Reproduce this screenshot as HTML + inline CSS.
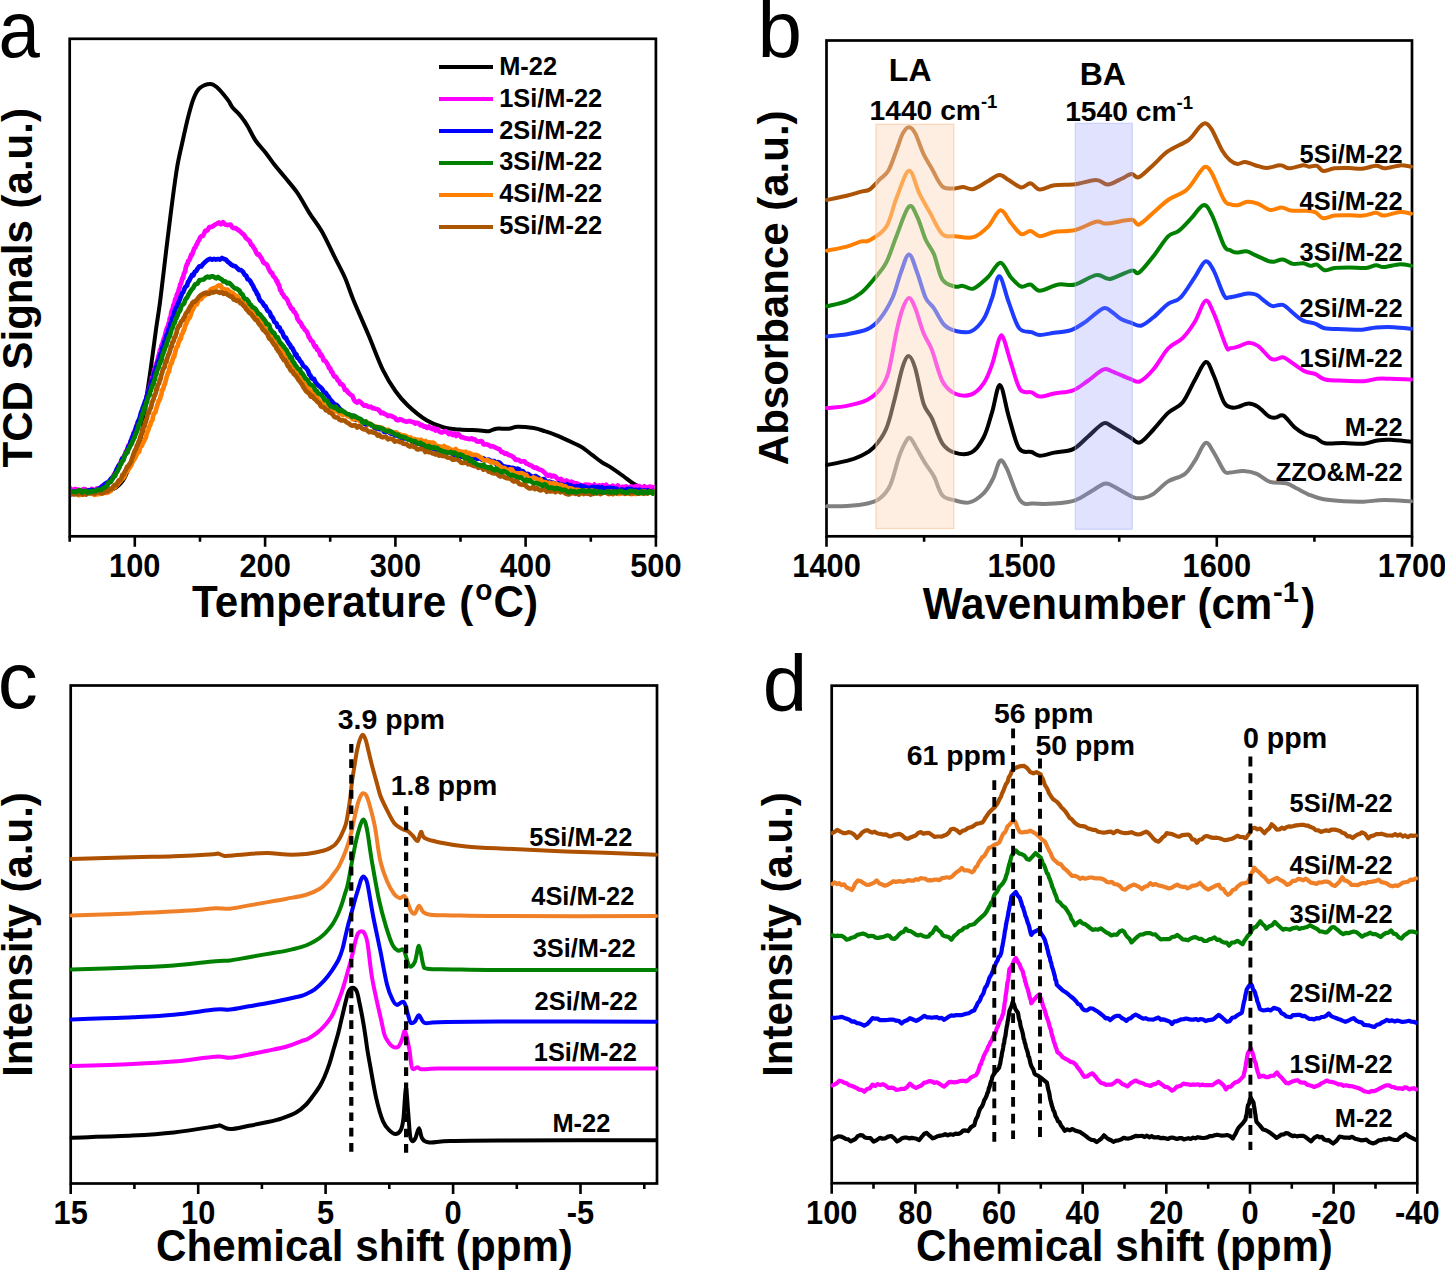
<!DOCTYPE html>
<html><head><meta charset="utf-8"><style>
html,body{margin:0;padding:0;background:#fff;overflow:hidden;width:1445px;height:1270px;}
svg{display:block;font-family:"Liberation Sans",sans-serif;}
</style></head><body>
<svg width="1445" height="1270" viewBox="0 0 1445 1270" font-family="Liberation Sans, sans-serif">
<defs><clipPath id="clipA"><rect x="70.9" y="40" width="583.8" height="494.8"/></clipPath></defs>
<rect x="69.7" y="38.8" width="586.2" height="497.5" fill="none" stroke="#000" stroke-width="2.7"/>
<path d="M134.8,536.3v10.5M265.1,536.3v10.5M395.4,536.3v10.5M525.6,536.3v10.5M655.9,536.3v10.5M69.7,536.3v5.5M200.0,536.3v5.5M330.2,536.3v5.5M460.5,536.3v5.5M590.8,536.3v5.5" stroke="#000" stroke-width="2.6" fill="none"/>
<text transform="translate(134.8,577.2) scale(1,1.055)" font-size="30.8" font-weight="bold" text-anchor="middle">100</text>
<text transform="translate(265.1,577.2) scale(1,1.055)" font-size="30.8" font-weight="bold" text-anchor="middle">200</text>
<text transform="translate(395.4,577.2) scale(1,1.055)" font-size="30.8" font-weight="bold" text-anchor="middle">300</text>
<text transform="translate(525.6,577.2) scale(1,1.055)" font-size="30.8" font-weight="bold" text-anchor="middle">400</text>
<text transform="translate(655.9,577.2) scale(1,1.055)" font-size="30.8" font-weight="bold" text-anchor="middle">500</text>
<text transform="translate(192,616.8) scale(1.004,1.045)" font-size="42" font-weight="bold"><tspan letter-spacing="0.2">Temperature</tspan><tspan dx="1.2"> (</tspan><tspan font-size="28" dx="2" dy="-16.5">o</tspan><tspan dx="1" dy="16.5">C)</tspan></text>
<text transform="translate(31.5,287.8) rotate(-90)" font-size="42" font-weight="bold" text-anchor="middle">TCD Signals (a.u.)</text>
<text transform="translate(-1.5,57) scale(0.93,1)" font-size="80">a</text>
<rect x="826.5" y="40.5" width="585.5" height="495.8" fill="none" stroke="#000" stroke-width="2.7"/>
<path d="M826.5,536.3v10.5M1021.7,536.3v10.5M1216.8,536.3v10.5M1412.0,536.3v10.5M924.1,536.3v5.5M1119.2,536.3v5.5M1314.4,536.3v5.5" stroke="#000" stroke-width="2.6" fill="none"/>
<text transform="translate(826.5,577.2) scale(1,1.055)" font-size="30.8" font-weight="bold" text-anchor="middle">1400</text>
<text transform="translate(1021.7,577.2) scale(1,1.055)" font-size="30.8" font-weight="bold" text-anchor="middle">1500</text>
<text transform="translate(1216.8,577.2) scale(1,1.055)" font-size="30.8" font-weight="bold" text-anchor="middle">1600</text>
<text transform="translate(1412.0,577.2) scale(1,1.055)" font-size="30.8" font-weight="bold" text-anchor="middle">1700</text>
<text transform="translate(1119,619) scale(1.003,1.045)" font-size="42" font-weight="bold" text-anchor="middle">Wavenumber (cm<tspan font-size="29" dx="0.8" dy="-16.5">-1</tspan><tspan dx="2.2" dy="16.5">)</tspan></text>
<text transform="translate(788,287.8) rotate(-90)" font-size="42" font-weight="bold" text-anchor="middle">Absorbance (a.u.)</text>
<text x="757.5" y="57.0" font-size="80" font-weight="normal" text-anchor="start" >b</text>
<rect x="70.7" y="685.5" width="586.3" height="498.0" fill="none" stroke="#000" stroke-width="2.7"/>
<path d="M70.7,1183.5v10.5M198.2,1183.5v10.5M325.6,1183.5v10.5M453.1,1183.5v10.5M580.5,1183.5v10.5M134.4,1183.5v5.5M261.9,1183.5v5.5M389.3,1183.5v5.5M516.8,1183.5v5.5M644.3,1183.5v5.5" stroke="#000" stroke-width="2.6" fill="none"/>
<text transform="translate(70.7,1224.2) scale(1,1.055)" font-size="30.8" font-weight="bold" text-anchor="middle">15</text>
<text transform="translate(198.2,1224.2) scale(1,1.055)" font-size="30.8" font-weight="bold" text-anchor="middle">10</text>
<text transform="translate(325.6,1224.2) scale(1,1.055)" font-size="30.8" font-weight="bold" text-anchor="middle">5</text>
<text transform="translate(453.1,1224.2) scale(1,1.055)" font-size="30.8" font-weight="bold" text-anchor="middle">0</text>
<text transform="translate(580.5,1224.2) scale(1,1.055)" font-size="30.8" font-weight="bold" text-anchor="middle">-5</text>
<text transform="translate(364.5,1261) scale(1.004,1.045)" font-size="42" font-weight="bold" text-anchor="middle">Chemical shift (ppm)</text>
<text transform="translate(31.5,934.5) rotate(-90)" font-size="42" font-weight="bold" text-anchor="middle">Intensity (a.u.)</text>
<text x="-2.2" y="708.2" font-size="80" font-weight="normal" text-anchor="start" >c</text>
<rect x="831.7" y="685.7" width="585.6" height="497.5" fill="none" stroke="#000" stroke-width="2.7"/>
<path d="M831.7,1183.2v10.5M915.4,1183.2v10.5M999.0,1183.2v10.5M1082.7,1183.2v10.5M1166.3,1183.2v10.5M1250.0,1183.2v10.5M1333.6,1183.2v10.5M1417.3,1183.2v10.5M873.5,1183.2v5.5M957.2,1183.2v5.5M1040.8,1183.2v5.5M1124.5,1183.2v5.5M1208.2,1183.2v5.5M1291.8,1183.2v5.5M1375.5,1183.2v5.5" stroke="#000" stroke-width="2.6" fill="none"/>
<text transform="translate(831.7,1224.2) scale(1,1.055)" font-size="30.8" font-weight="bold" text-anchor="middle">100</text>
<text transform="translate(915.4,1224.2) scale(1,1.055)" font-size="30.8" font-weight="bold" text-anchor="middle">80</text>
<text transform="translate(999.0,1224.2) scale(1,1.055)" font-size="30.8" font-weight="bold" text-anchor="middle">60</text>
<text transform="translate(1082.7,1224.2) scale(1,1.055)" font-size="30.8" font-weight="bold" text-anchor="middle">40</text>
<text transform="translate(1166.3,1224.2) scale(1,1.055)" font-size="30.8" font-weight="bold" text-anchor="middle">20</text>
<text transform="translate(1250.0,1224.2) scale(1,1.055)" font-size="30.8" font-weight="bold" text-anchor="middle">0</text>
<text transform="translate(1333.6,1224.2) scale(1,1.055)" font-size="30.8" font-weight="bold" text-anchor="middle">-20</text>
<text transform="translate(1417.3,1224.2) scale(1,1.055)" font-size="30.8" font-weight="bold" text-anchor="middle">-40</text>
<text transform="translate(1124.5,1261) scale(1.004,1.045)" font-size="42" font-weight="bold" text-anchor="middle">Chemical shift (ppm)</text>
<text transform="translate(792,934.5) rotate(-90)" font-size="42" font-weight="bold" text-anchor="middle">Intensity (a.u.)</text>
<text x="762.8" y="710.8" font-size="80" font-weight="normal" text-anchor="start" >d</text>
<g clip-path="url(#clipA)">
<path d="M80.0,490.0C83.3,490.0 94.7,490.2 100.0,490.0C105.3,489.8 109.3,489.4 112.0,489.0C114.7,488.6 114.6,488.4 116.0,487.5C117.4,486.6 119.2,485.1 120.6,483.5C122.0,481.9 123.2,480.4 124.5,478.0C125.8,475.6 127.1,472.3 128.5,469.0C129.9,465.7 131.5,461.5 133.0,458.0C134.5,454.5 136.0,452.2 137.5,448.0C139.0,443.8 140.5,440.3 141.8,433.0C143.1,425.7 144.1,413.9 145.5,404.0C146.9,394.1 148.2,386.4 150.0,373.8C151.8,361.2 154.5,340.4 156.2,328.1C157.9,315.8 158.6,313.5 160.3,300.0C162.0,286.5 164.7,262.7 166.6,246.9C168.5,231.1 170.1,218.5 171.8,205.3C173.5,192.2 175.3,178.4 177.0,168.0C178.7,157.6 180.3,151.7 182.2,143.0C184.1,134.3 186.5,123.4 188.4,116.0C190.3,108.6 191.7,103.1 193.6,98.4C195.5,93.7 197.0,90.4 199.8,88.0C202.6,85.6 207.3,84.0 210.2,83.9C213.0,83.8 214.5,85.3 216.9,87.3C219.3,89.3 222.8,93.6 224.8,96.0C226.8,98.4 227.7,99.5 229.0,101.5C230.3,103.5 231.0,105.7 232.7,107.8C234.4,109.9 237.1,112.0 239.0,114.1C240.9,116.2 242.4,118.3 244.0,120.5C245.6,122.7 246.4,124.1 248.4,127.5C250.4,130.9 252.9,136.7 255.9,141.0C258.9,145.3 263.1,149.4 266.2,153.4C269.3,157.4 271.4,160.8 274.5,164.8C277.6,168.8 281.1,172.6 284.9,177.3C288.7,182.0 293.2,186.9 297.4,192.9C301.5,198.9 305.6,207.0 309.8,213.6C314.0,220.2 318.2,225.0 322.3,232.3C326.4,239.6 330.9,249.6 334.7,257.2C338.5,264.8 342.0,270.9 345.1,278.0C348.2,285.1 349.5,290.5 353.4,300.0C357.3,309.5 363.6,323.3 368.5,335.0C373.4,346.7 378.5,360.9 383.0,370.2C387.5,379.5 391.2,385.1 395.4,391.0C399.5,396.9 402.7,400.6 407.9,405.5C413.1,410.4 420.7,416.7 426.6,420.3C432.5,423.9 437.7,425.8 443.2,427.3C448.7,428.9 453.7,429.1 459.8,429.6C465.9,430.1 475.2,430.1 480.0,430.4C484.8,430.7 486.0,431.5 488.7,431.2C491.4,430.9 492.9,429.1 496.2,428.7C499.5,428.3 505.1,429.0 508.6,428.7C512.1,428.4 513.2,426.9 517.4,426.8C521.5,426.7 528.9,427.4 533.5,428.1C538.1,428.8 540.8,429.9 544.8,431.2C548.8,432.4 552.4,433.6 557.2,435.6C562.0,437.6 569.2,441.0 573.4,443.0C577.5,445.0 579.0,445.4 582.1,447.4C585.2,449.4 588.8,452.4 592.1,454.9C595.4,457.4 598.9,460.2 602.0,462.3C605.1,464.4 607.3,465.0 610.8,467.3C614.3,469.6 619.5,473.3 623.2,476.0C626.9,478.7 630.3,481.6 633.2,483.5C636.1,485.4 638.3,486.2 640.6,487.2C642.9,488.2 644.4,488.9 647.0,489.5C649.6,490.1 654.5,490.3 656.0,490.5" fill="none" stroke="#000" stroke-width="4" stroke-linejoin="round" stroke-linecap="round" />
<path d="M70.0,488.0 71.7,490.1 73.3,490.0 75.0,488.9 76.7,489.7 78.3,489.7 80.0,490.4 81.7,490.8 83.3,489.1 85.0,489.0 86.7,491.2 88.3,490.2 90.0,491.2 91.7,488.9 93.3,489.7 95.0,490.1 96.7,488.5 98.3,490.0 100.0,489.5 102.0,486.1 104.0,484.9 106.0,485.1 108.0,484.1 110.0,480.7 111.3,478.4 112.7,477.1 114.0,474.3 115.0,472.9 116.0,471.5 117.0,469.8 118.0,467.2 119.0,465.3 119.9,463.6 120.7,462.5 121.6,460.3 122.4,457.9 123.3,458.3 124.1,455.9 125.0,454.4 125.8,451.4 126.7,451.6 127.5,449.4 128.3,445.7 129.2,444.4 130.0,443.6 130.6,441.9 131.2,440.9 131.8,438.0 132.4,437.5 133.0,435.4 133.6,432.9 134.2,432.0 134.8,431.2 135.4,429.5 136.0,427.0 136.7,425.5 137.5,422.4 138.2,421.2 138.9,421.0 139.7,418.3 140.4,415.9 141.1,415.2 141.8,413.9 142.6,412.2 143.3,409.7 143.8,408.2 144.2,406.7 144.7,405.7 145.1,403.3 145.6,401.3 146.1,399.9 146.5,397.0 147.0,395.4 147.4,395.4 147.9,394.5 148.4,391.8 148.8,389.6 149.3,387.3 149.7,386.5 150.2,386.1 150.7,383.9 151.1,381.7 151.6,380.9 152.0,377.7 152.5,376.8 153.0,376.4 153.4,373.8 153.9,371.9 154.3,369.8 154.8,368.9 155.3,368.4 155.7,364.3 156.2,364.7 156.7,363.2 157.1,361.8 157.6,359.8 158.0,358.4 158.5,356.0 159.0,354.5 159.5,352.6 160.0,350.0 160.5,350.5 161.0,348.1 161.5,345.5 162.0,344.6 162.6,343.0 163.1,341.0 163.6,339.3 164.1,338.2 164.6,336.8 165.1,335.2 165.6,333.1 166.1,330.4 166.6,329.3 167.1,327.5 167.5,327.0 168.0,326.1 168.4,324.3 168.9,322.7 169.4,321.1 169.8,318.1 170.3,318.0 170.8,315.9 171.2,312.8 171.7,311.0 172.2,309.4 172.6,309.7 173.1,306.8 173.5,304.8 174.0,304.5 174.6,302.1 175.1,299.7 175.7,298.3 176.3,297.6 176.8,294.9 177.4,293.5 178.0,293.0 178.5,290.7 179.1,288.6 179.7,287.3 180.2,284.5 180.8,283.7 181.3,282.1 181.9,279.8 182.4,277.9 183.0,278.3 183.5,275.6 184.1,273.1 184.7,272.4 185.2,271.3 185.8,267.5 186.4,265.7 186.9,264.3 187.5,264.1 188.2,261.0 189.0,260.8 189.8,259.1 190.5,257.1 191.2,254.6 192.0,255.0 192.8,252.9 193.5,250.5 194.4,248.1 195.3,247.5 196.2,245.1 197.1,243.8 198.0,241.5 198.9,240.5 200.2,237.3 201.4,236.2 202.7,236.1 203.9,234.1 205.2,230.9 207.3,230.4 209.4,227.1 211.5,226.8 213.4,225.8 215.3,224.5 217.1,223.6 219.0,222.4 220.9,224.2 223.0,222.2 225.1,224.5 227.2,225.1 228.8,224.8 230.5,224.5 232.1,227.1 233.8,228.1 235.4,228.1 237.6,229.5 239.8,231.1 241.9,233.1 244.0,234.8 246.1,238.2 247.4,239.2 248.6,240.2 249.9,241.6 251.1,244.7 252.4,245.4 253.7,247.8 254.9,249.2 256.2,252.6 257.4,254.5 258.7,254.1 260.2,256.4 261.7,258.6 263.2,262.1 264.7,263.4 266.2,264.1 267.4,265.5 268.5,268.4 269.7,270.6 270.8,272.6 272.0,272.8 273.1,275.9 274.3,277.1 275.4,278.3 276.6,281.4 277.3,281.2 278.0,284.3 278.7,284.4 279.4,286.4 280.1,290.1 280.8,290.1 282.0,293.3 283.3,294.7 284.5,297.2 285.8,297.8 287.0,299.6 287.9,301.1 288.9,304.2 289.8,305.1 290.8,307.7 291.7,309.1 292.7,308.8 293.6,311.5 294.6,311.9 295.5,313.4 296.5,315.1 297.4,318.8 298.4,320.2 299.5,322.0 300.5,322.4 301.5,324.7 302.6,326.8 303.6,327.4 304.6,329.6 305.7,330.4 306.7,331.7 307.8,333.8 308.8,337.1 309.8,337.9 310.9,340.5 311.9,340.9 312.9,342.1 314.0,345.1 315.0,346.9 316.0,346.4 317.1,349.8 318.1,349.9 319.2,351.6 320.3,355.3 321.4,354.7 322.5,356.9 323.6,360.5 324.7,360.6 325.8,361.5 326.9,363.2 328.0,365.1 329.0,368.0 330.1,368.0 331.2,371.7 332.3,372.0 333.4,375.1 334.5,376.6 335.6,376.7 336.7,378.2 337.8,380.4 338.9,381.1 340.4,384.2 341.9,384.2 343.4,385.8 344.9,390.0 346.4,389.9 348.0,392.4 349.5,393.7 351.0,395.0 352.5,396.0 354.0,399.9 355.5,401.7 357.2,402.5 358.9,401.0 360.6,402.1 362.3,403.9 364.0,405.6 365.8,405.2 367.5,406.3 369.2,407.0 370.9,406.7 372.6,408.2 374.3,408.4 376.0,409.0 377.7,409.3 379.4,410.6 381.1,413.2 382.8,412.6 384.5,413.9 386.2,414.6 387.9,416.1 389.6,415.5 391.3,416.0 393.0,416.8 394.7,417.6 396.4,419.7 398.1,420.3 399.8,419.1 401.5,419.7 403.2,420.6 404.9,421.2 406.6,421.6 408.4,421.2 410.1,421.0 411.8,422.0 413.5,422.0 415.2,423.7 416.9,422.9 418.6,423.3 420.3,425.3 422.0,424.9 423.7,426.7 425.4,426.4 427.1,427.9 428.8,426.5 430.5,428.0 432.2,429.2 433.9,427.9 435.6,430.6 437.3,429.1 439.0,431.2 440.7,432.3 442.4,432.3 444.1,431.4 445.8,431.2 447.5,432.7 449.2,434.2 450.9,433.0 452.7,435.0 454.4,433.5 456.1,435.9 457.8,434.0 459.5,435.2 461.2,437.1 462.9,437.3 464.6,438.1 466.3,438.4 468.0,438.7 469.7,439.1 471.4,438.3 473.2,439.5 474.9,439.3 476.6,441.3 478.3,441.7 480.0,441.2 481.8,441.3 483.6,444.3 485.4,444.5 487.1,444.4 488.9,445.1 490.7,446.5 492.5,446.1 494.3,447.0 496.0,447.9 497.8,448.7 499.6,449.2 501.4,451.9 503.1,452.3 504.9,453.8 506.7,453.4 508.5,455.0 510.3,455.4 512.0,456.2 513.8,457.5 515.6,459.9 517.4,459.6 519.2,460.3 520.9,461.6 522.7,461.3 524.5,461.4 526.3,463.5 528.0,464.1 529.8,465.2 531.5,465.5 533.1,467.0 534.8,467.9 536.5,467.5 538.1,469.0 539.8,469.7 541.4,470.0 543.1,471.4 544.8,472.8 546.4,474.6 548.1,475.6 549.7,474.8 551.6,476.5 553.4,475.7 555.3,476.5 557.2,478.4 559.0,480.0 560.9,478.9 562.7,480.8 564.5,481.5 566.3,480.4 568.0,481.7 569.8,482.5 571.6,481.6 573.4,482.8 575.2,483.4 577.0,483.4 578.8,484.6 580.5,485.1 582.3,485.7 584.1,485.1 585.9,484.6 587.6,484.8 589.3,484.8 591.0,485.7 592.7,486.3 594.4,484.5 596.0,486.2 597.7,486.3 599.4,485.4 601.1,485.9 602.8,485.1 604.5,486.6 606.2,484.8 607.8,487.3 609.5,486.9 611.1,486.5 612.8,485.6 614.5,487.3 616.1,487.5 617.8,485.4 619.4,487.1 621.1,487.3 622.8,486.9 624.4,487.0 626.1,486.4 627.7,487.7 629.4,487.8 631.1,486.4 632.7,487.5 634.4,486.7 636.0,486.1 637.7,486.6 639.4,486.1 641.0,488.2 642.7,488.4 644.4,486.3 646.0,487.7 647.7,487.3 649.4,486.6 651.0,487.1 652.7,487.1 654.3,488.5 656.0,486.6" fill="none" stroke="#FF00FF" stroke-width="4.7" stroke-linejoin="round" stroke-linecap="round" />
<path d="M70.0,494.2 71.7,494.1 73.3,491.6 75.0,491.6 76.7,493.4 78.3,493.1 80.0,492.8 81.7,491.7 83.3,492.4 85.0,492.3 86.8,491.8 88.5,490.3 90.3,490.5 92.0,490.0 93.8,490.4 95.5,490.7 97.3,490.2 99.2,488.3 101.1,487.2 103.0,485.9 104.9,484.0 106.8,482.7 108.7,481.9 110.5,479.5 111.8,478.0 113.1,477.7 114.4,475.1 115.2,473.5 116.1,471.0 116.9,468.8 117.7,467.9 118.6,465.7 119.4,465.0 120.3,464.6 121.2,462.0 122.1,459.0 123.0,459.2 123.9,457.2 124.8,455.3 125.7,454.1 126.6,451.8 127.4,450.0 128.3,446.9 129.1,446.7 130.0,444.7 130.7,440.9 131.3,440.8 131.9,439.0 132.6,436.6 133.2,435.1 133.9,433.3 134.6,432.7 135.2,429.9 135.8,429.1 136.5,426.1 137.1,425.9 137.6,424.3 138.2,421.5 138.7,420.2 139.3,419.4 139.9,417.3 140.4,415.1 141.0,412.7 141.5,411.4 142.1,410.7 142.7,407.7 143.2,407.9 143.8,404.6 144.4,404.6 144.9,401.4 145.5,401.4 146.1,399.1 146.6,397.0 147.2,395.3 147.7,394.0 148.3,392.2 148.9,389.8 149.4,387.9 150.0,387.0 150.5,386.4 151.1,383.9 151.6,380.8 152.2,381.1 152.7,379.1 153.2,377.9 153.8,374.4 154.3,374.1 154.8,370.6 155.4,370.5 155.9,367.8 156.5,366.0 157.0,366.0 157.5,362.3 158.1,361.7 158.6,360.9 159.2,357.7 159.7,355.9 160.2,356.0 160.8,353.1 161.3,352.2 161.9,348.8 162.4,348.0 163.0,345.8 163.5,345.4 164.1,342.2 164.7,342.7 165.3,338.5 165.9,338.6 166.6,335.0 167.2,333.9 167.8,333.6 168.4,330.1 169.0,328.4 169.6,328.0 170.1,325.6 170.6,323.1 171.2,323.9 171.7,320.2 172.2,318.2 172.7,317.4 173.2,316.5 173.7,315.3 174.3,312.0 174.8,311.0 175.3,308.6 176.0,307.9 176.7,306.9 177.4,305.0 178.2,303.6 178.9,301.5 179.6,299.9 180.3,297.7 181.3,295.3 182.3,292.9 183.2,292.2 184.2,289.5 185.2,287.2 186.1,286.3 187.1,285.6 188.0,281.9 188.9,281.3 189.9,279.0 190.8,277.5 192.1,274.9 193.5,275.3 194.8,271.8 196.2,271.0 197.5,268.8 199.3,266.4 201.2,266.5 203.0,264.1 204.8,262.3 206.7,260.7 208.5,259.4 210.4,258.8 212.2,259.7 214.1,258.9 215.9,259.6 217.8,259.0 219.9,259.6 222.0,258.0 224.1,259.0 226.0,259.7 227.9,261.9 229.7,263.2 231.6,264.9 233.5,265.9 235.4,266.3 237.3,268.2 239.2,270.0 241.1,270.2 243.0,271.8 244.6,274.7 246.2,275.8 247.7,279.3 249.3,279.9 250.3,281.2 251.3,283.0 252.3,284.8 253.3,286.3 254.3,288.8 255.2,290.3 256.2,291.6 257.1,294.2 258.1,294.8 259.1,298.3 260.0,300.2 261.1,301.3 262.2,302.2 263.3,304.0 264.4,305.9 265.5,306.2 266.6,308.8 267.7,310.7 268.9,311.5 270.0,312.9 271.1,316.5 272.2,317.0 273.3,319.0 274.4,321.8 275.5,322.6 276.6,323.5 277.6,326.9 278.7,327.0 279.7,327.7 280.8,331.1 281.8,331.3 282.8,333.5 283.9,336.5 284.9,337.7 286.0,337.7 287.0,340.5 288.0,342.0 289.1,343.9 290.1,344.8 291.2,347.5 292.2,347.8 293.2,350.0 294.3,351.9 295.3,355.0 296.4,354.4 297.4,357.9 298.6,358.0 299.8,360.6 301.0,361.8 302.1,363.6 303.3,366.0 304.5,366.7 305.7,367.6 306.9,369.2 308.1,370.8 309.3,374.4 310.4,375.5 311.6,377.9 312.8,378.9 314.0,378.8 315.4,382.1 316.9,384.0 318.4,385.6 319.8,386.6 321.2,387.9 322.7,389.8 324.1,392.4 325.6,392.7 327.1,395.0 328.5,396.5 330.1,399.5 331.6,400.9 333.2,402.9 334.8,404.4 336.3,404.8 337.9,406.3 339.4,408.7 341.0,409.9 342.9,411.4 344.7,413.1 346.6,414.7 348.4,414.9 350.2,416.6 352.1,415.7 353.8,417.2 355.5,419.7 357.2,418.3 358.9,419.8 360.6,419.7 362.3,420.6 364.1,423.5 365.8,424.5 367.5,424.5 369.2,423.9 370.9,425.2 372.6,425.8 374.3,427.7 376.0,428.4 377.7,428.3 379.4,429.1 381.1,428.7 382.8,430.4 384.5,432.0 386.2,432.1 387.9,431.0 389.6,432.7 391.3,433.8 393.0,433.2 394.7,435.4 396.4,434.9 398.1,436.2 399.8,436.1 401.5,438.3 403.2,438.4 404.9,438.5 406.6,438.1 408.4,439.5 410.1,439.1 411.8,441.3 413.5,442.7 415.2,441.5 416.9,443.1 418.6,443.7 420.3,444.0 422.0,445.2 423.7,446.3 425.4,446.2 427.1,446.1 428.8,447.9 430.5,446.8 432.2,448.3 433.9,448.6 435.6,449.4 437.3,450.1 439.0,449.0 440.7,450.5 442.4,450.4 444.1,451.5 445.8,452.8 447.5,452.3 449.2,451.2 450.9,452.8 452.7,453.9 454.4,454.8 456.1,454.6 457.8,455.5 459.5,453.9 461.2,456.7 462.9,456.6 464.6,456.5 466.3,457.6 468.0,457.8 469.7,456.0 471.4,458.1 473.2,458.3 474.9,457.0 476.6,458.7 478.3,458.6 480.0,457.8 481.8,459.7 483.6,458.4 485.4,460.0 487.1,459.9 488.9,459.7 490.7,460.9 492.5,461.0 494.3,461.0 496.0,463.7 497.8,462.1 499.6,462.7 501.4,464.6 503.1,466.3 504.9,466.5 506.7,467.3 508.5,467.1 510.3,468.1 512.0,467.8 513.8,468.1 515.6,469.3 517.4,468.6 519.2,469.4 520.9,471.9 522.7,471.1 524.5,473.3 526.3,474.1 528.0,473.8 529.8,475.3 531.6,476.3 533.4,477.2 535.2,476.0 536.9,476.8 538.7,478.1 540.5,479.0 542.3,479.3 544.1,479.1 545.8,481.0 547.6,482.6 549.4,481.6 551.2,482.5 552.9,482.7 554.7,483.4 556.5,484.7 558.3,483.5 560.1,484.7 561.8,484.5 563.6,485.0 565.4,486.2 567.2,484.3 568.9,486.4 570.5,485.2 572.2,486.2 573.8,486.7 575.5,486.5 577.2,486.0 578.8,487.3 580.5,485.5 582.1,487.0 583.8,486.5 585.5,487.0 587.1,488.0 588.8,488.0 590.4,487.7 592.1,487.0 593.7,486.9 595.4,487.6 597.0,487.2 598.7,487.4 600.3,489.3 601.9,487.2 603.6,489.2 605.2,488.1 606.9,488.2 608.5,488.2 610.2,487.7 611.8,488.8 613.4,488.2 615.1,489.0 616.7,488.7 618.4,490.4 620.0,490.6 621.6,489.4 623.3,490.0 624.9,490.8 626.5,489.3 628.2,488.8 629.8,489.2 631.5,489.2 633.1,490.5 634.7,489.8 636.4,489.8 638.0,491.0 639.6,489.6 641.3,491.2 642.9,490.8 644.5,490.3 646.2,491.4 647.8,490.2 649.5,491.7 651.1,491.9 652.7,490.9 654.4,491.4 656.0,492.2" fill="none" stroke="#0000FF" stroke-width="4.7" stroke-linejoin="round" stroke-linecap="round" />
<path d="M69.0,493.3 70.7,493.0 72.4,493.7 74.1,493.1 75.7,492.9 77.4,493.7 79.1,495.1 80.8,494.8 82.5,494.7 84.2,493.3 85.9,494.1 87.5,493.4 89.2,493.1 90.9,493.0 92.6,493.3 94.4,494.9 96.1,494.4 97.9,494.2 99.7,493.9 101.5,492.1 103.2,492.2 105.0,492.8 106.8,492.9 108.9,492.0 110.9,490.8 113.0,487.4 114.6,487.4 116.2,486.1 117.8,484.2 119.4,482.0 120.6,481.0 121.7,478.3 122.8,478.8 124.0,477.0 125.2,474.2 126.4,471.6 127.6,471.3 128.8,468.5 130.0,467.3 131.2,465.3 132.3,462.5 133.5,460.3 134.7,458.8 135.9,456.4 137.1,453.7 138.3,452.1 139.2,451.6 140.1,447.8 141.0,446.0 141.9,445.7 142.8,443.0 143.7,441.9 144.6,439.9 145.2,437.9 145.9,437.8 146.5,434.0 147.1,432.8 147.8,430.6 148.4,429.9 149.0,427.3 149.7,425.8 150.3,425.0 151.0,422.1 151.7,421.0 152.4,420.1 153.1,416.2 153.8,414.3 154.5,412.9 155.2,412.5 155.9,410.3 156.5,407.7 157.0,406.2 157.6,404.2 158.1,403.2 158.7,400.5 159.2,400.5 159.8,399.4 160.3,397.8 160.8,395.6 161.4,394.5 161.9,390.4 162.5,389.5 163.0,389.6 163.6,387.5 164.1,384.9 164.7,384.7 165.2,382.2 165.7,381.1 166.3,378.2 166.8,376.3 167.3,375.3 167.9,372.9 168.4,371.9 169.0,371.8 169.5,368.6 170.1,366.1 170.7,364.5 171.2,363.1 171.8,363.1 172.4,360.3 173.0,358.5 173.6,356.3 174.2,356.9 174.8,353.8 175.3,351.6 175.9,349.5 176.5,347.8 177.1,346.5 177.8,346.1 178.4,343.1 179.0,341.1 179.6,340.6 180.2,338.3 180.9,338.6 181.5,334.7 182.1,334.1 182.8,333.0 183.4,330.4 184.0,330.3 184.8,327.2 185.6,324.8 186.4,323.5 187.2,320.8 188.0,320.0 188.8,317.8 189.6,317.8 190.4,315.9 191.2,313.4 192.1,310.6 192.9,309.6 193.7,307.9 194.6,306.2 195.4,304.7 196.9,304.5 198.4,300.7 200.0,298.6 201.5,299.0 203.0,296.2 204.9,295.6 206.8,292.5 208.6,292.1 210.5,289.8 212.4,288.6 214.4,288.0 216.4,287.0 218.3,285.5 220.3,285.4 222.1,288.1 223.9,289.1 225.7,290.1 227.6,289.5 229.4,291.3 231.2,292.6 233.0,293.2 234.7,295.2 236.5,295.9 238.2,297.8 239.9,299.4 241.7,299.9 243.4,303.1 244.9,304.9 246.4,304.3 247.9,308.4 249.4,310.1 250.9,311.1 252.5,311.2 254.0,315.1 255.5,314.9 257.0,318.8 258.5,319.7 260.0,319.9 261.2,321.8 262.4,324.7 263.6,326.2 264.8,328.3 266.0,330.4 267.2,330.3 268.5,331.4 269.7,335.4 270.9,334.7 272.1,338.6 273.3,338.3 274.5,341.8 275.6,343.4 276.7,345.2 277.9,346.0 279.0,348.4 280.1,348.3 281.2,351.1 282.4,351.9 283.5,354.9 284.6,356.2 285.7,357.1 286.9,358.8 288.0,359.2 289.1,360.8 290.2,363.8 291.3,365.2 292.4,367.7 293.5,368.7 294.6,369.1 295.7,371.2 296.8,373.9 298.0,374.9 299.1,375.1 300.2,378.9 301.3,380.5 302.4,380.1 303.5,382.9 304.6,384.1 305.7,386.7 307.4,387.2 309.1,388.8 310.8,391.1 312.5,394.1 314.2,393.6 315.9,395.4 317.6,398.4 319.3,400.8 321.0,401.6 322.7,403.1 324.4,405.9 326.3,406.7 328.1,405.7 330.0,408.8 331.8,408.0 333.7,409.2 335.5,411.5 337.3,411.4 339.2,413.3 341.0,412.6 342.7,415.1 344.3,414.0 346.0,414.6 347.7,416.2 349.3,416.4 351.0,417.6 352.7,419.2 354.3,419.4 356.0,418.2 357.7,419.6 359.3,420.7 361.0,421.1 362.6,422.2 364.3,422.2 366.0,421.7 367.6,422.7 369.3,424.8 371.0,424.0 372.6,425.7 374.3,426.8 375.9,426.4 377.6,427.1 379.3,427.5 381.0,427.3 382.7,429.5 384.4,429.0 386.1,430.7 387.9,429.7 389.6,431.8 391.3,432.2 393.0,432.4 394.7,432.5 396.4,432.4 398.2,434.7 400.1,434.4 401.9,435.9 403.8,435.3 405.6,435.9 407.5,436.8 409.2,438.9 410.8,437.6 412.5,439.9 414.1,438.9 415.8,439.8 417.5,439.6 419.1,440.7 420.8,439.7 422.4,440.9 424.1,442.6 425.8,441.1 427.4,442.8 429.1,442.4 430.7,442.8 432.4,442.5 434.1,443.0 435.7,445.8 437.4,446.0 439.0,446.3 440.7,446.8 442.4,447.6 444.0,446.0 445.7,447.5 447.4,447.7 449.0,448.4 450.7,449.8 452.4,449.8 454.1,450.7 455.7,449.0 457.4,450.8 459.1,451.2 460.7,451.8 462.4,451.9 464.0,452.8 465.7,451.8 467.4,453.9 469.0,452.9 470.7,453.8 472.3,454.9 474.0,454.8 476.0,454.8 478.0,455.7 480.0,456.9 481.8,458.4 483.6,460.1 485.4,460.5 487.1,459.9 488.9,460.6 490.7,462.4 492.5,461.7 494.3,463.0 496.0,462.8 497.8,464.2 499.6,466.0 501.4,467.3 503.1,468.0 504.9,468.2 506.7,470.3 508.5,470.0 510.3,469.3 512.0,469.6 513.8,472.5 515.6,473.0 517.4,473.4 519.2,473.3 520.9,473.2 522.7,473.4 524.5,474.5 526.3,475.1 528.0,477.7 529.8,478.3 531.6,478.6 533.4,477.4 535.2,478.2 536.9,478.9 538.7,481.1 540.5,479.6 542.3,481.8 544.1,482.0 545.8,482.2 547.6,483.8 549.4,482.6 551.2,483.8 552.9,483.4 554.7,483.8 556.5,483.9 558.3,485.0 560.1,484.8 561.8,485.0 563.6,487.8 565.4,486.3 567.2,488.2 568.8,488.1 570.4,488.5 572.1,488.6 573.7,489.8 575.3,489.9 576.9,489.8 578.5,489.8 580.1,490.5 581.8,490.9 583.4,490.8 585.0,491.0 586.6,490.3 588.2,492.2 589.9,491.5 591.5,490.5 593.1,491.0 594.8,493.0 596.4,491.5 598.0,492.1 599.6,493.0 601.2,493.6 602.9,492.4 604.5,492.7 606.2,492.8 607.9,491.8 609.6,494.0 611.3,491.7 613.0,494.2 614.7,492.1 616.4,492.1 618.1,493.9 619.8,493.8 621.5,492.3 623.2,493.1 624.9,492.9 626.6,493.6 628.3,492.2 630.0,493.8 631.6,494.2 633.2,493.4 634.9,493.9 636.5,493.9 638.1,492.4 639.8,493.5 641.4,493.4 643.0,492.7 644.6,491.4 646.2,492.7 647.9,493.4 649.5,491.7 651.1,492.6 652.8,493.2 654.4,492.3 656.0,490.8" fill="none" stroke="#FF8000" stroke-width="4.7" stroke-linejoin="round" stroke-linecap="round" />
<path d="M69.0,493.5 70.7,493.9 72.4,494.0 74.2,494.5 75.9,494.0 77.6,494.5 79.3,492.2 81.0,493.4 82.7,494.6 84.5,493.9 86.2,494.6 87.9,492.6 89.7,493.5 91.5,492.8 93.3,493.5 95.1,493.6 96.9,492.0 98.7,492.5 100.5,492.6 102.4,493.6 104.2,492.5 106.1,490.3 108.0,491.3 109.7,488.7 111.4,489.1 113.1,486.9 114.7,484.8 116.4,485.3 118.0,481.7 119.1,480.0 120.2,480.2 121.4,478.1 122.5,474.8 123.6,474.5 124.8,471.5 125.9,469.9 127.0,466.7 128.0,466.9 129.0,464.6 130.0,463.6 131.0,461.6 132.0,458.4 132.7,456.8 133.4,454.5 134.1,452.7 134.8,450.7 135.5,449.6 136.2,448.6 136.9,445.3 137.6,445.3 138.3,442.7 138.9,440.9 139.4,440.6 140.0,438.1 140.6,436.0 141.2,434.8 141.7,433.7 142.3,430.3 142.9,431.1 143.4,426.9 144.0,427.1 144.6,425.7 145.1,421.9 145.7,422.3 146.2,419.6 146.8,418.5 147.4,415.3 147.9,413.8 148.5,412.5 149.0,412.8 149.6,409.2 150.2,409.0 150.8,407.8 151.3,406.1 151.9,402.9 152.5,401.3 153.1,400.1 153.6,399.0 154.2,395.6 154.8,395.6 155.3,394.1 155.9,392.6 156.5,388.8 157.0,389.5 157.6,385.7 158.1,384.7 158.7,383.8 159.2,383.0 159.7,379.9 160.3,379.8 160.8,377.2 161.3,375.0 161.9,373.4 162.4,371.4 163.0,369.5 163.5,368.1 164.1,367.8 164.7,367.0 165.2,363.1 165.8,361.2 166.4,361.9 167.0,359.1 167.6,357.1 168.2,355.0 168.8,354.2 169.3,353.2 169.9,350.6 170.5,348.8 171.1,346.1 171.7,346.7 172.3,342.7 172.9,342.1 173.5,341.3 174.2,337.8 174.8,337.6 175.4,336.5 176.0,334.0 176.6,332.7 177.2,329.2 177.8,328.3 178.8,325.7 179.7,325.7 180.7,322.4 181.6,321.0 182.6,320.5 183.5,318.3 184.6,316.9 185.7,313.8 186.9,312.1 188.0,311.0 189.1,308.5 190.2,306.4 191.4,305.1 192.5,302.8 193.7,301.7 194.8,301.7 196.7,299.9 198.6,297.4 200.5,295.4 202.4,294.3 204.2,293.1 206.1,292.9 207.8,293.8 209.5,293.6 211.2,291.9 213.0,292.6 214.7,292.1 216.4,291.5 218.2,292.0 220.0,292.8 221.8,292.3 223.5,293.8 225.3,293.2 227.1,294.3 228.9,295.6 230.5,296.6 232.1,296.7 233.7,299.5 235.3,299.9 237.0,300.9 238.6,300.6 240.2,303.1 241.8,303.5 243.4,305.7 244.9,306.9 246.4,309.5 247.9,310.8 249.4,312.9 250.9,313.4 252.5,315.9 254.0,317.8 255.5,319.8 257.0,320.2 258.5,323.2 260.0,325.0 261.2,326.2 262.4,328.7 263.6,330.4 264.8,330.9 266.0,332.7 267.2,333.5 268.5,337.0 269.7,338.9 270.9,339.5 272.1,341.7 273.3,343.5 274.5,345.3 275.5,345.5 276.6,348.7 277.6,349.8 278.7,351.7 279.7,352.7 280.8,354.8 281.8,356.9 282.8,358.1 283.9,360.0 284.9,359.8 286.0,361.8 287.0,364.2 288.1,366.4 289.1,366.9 290.3,369.7 291.5,371.2 292.7,371.3 293.8,374.0 295.0,375.0 296.2,376.2 297.4,378.0 298.6,380.2 299.8,381.4 301.0,383.1 302.1,384.3 303.3,387.1 304.5,388.5 305.7,390.7 307.4,392.3 309.1,393.1 310.8,396.5 312.5,395.9 314.2,398.7 315.9,400.0 317.6,402.1 319.3,403.0 321.0,406.6 322.7,407.1 324.4,407.9 326.1,410.5 327.7,410.2 329.4,412.5 331.1,413.0 332.8,414.7 334.4,416.8 336.1,417.5 337.8,417.5 339.4,419.6 341.1,420.3 342.9,420.3 344.8,420.5 346.6,422.4 348.4,423.1 350.3,424.8 352.1,425.6 353.8,425.4 355.5,425.4 357.2,427.5 358.9,425.8 360.6,426.8 362.3,428.6 364.1,429.4 365.8,428.9 367.5,430.8 369.2,432.2 370.9,431.5 372.6,432.3 374.3,432.5 376.0,433.3 377.7,435.6 379.4,434.7 381.1,436.8 382.8,437.3 384.5,437.0 386.2,436.8 387.9,439.3 389.6,438.6 391.3,439.0 393.0,439.3 394.7,441.7 396.4,441.0 398.1,441.0 399.8,442.1 401.5,441.8 403.2,443.7 404.9,443.8 406.6,444.0 408.4,445.9 410.1,446.6 411.8,445.1 413.5,447.0 415.2,446.9 416.9,449.2 418.6,449.4 420.3,448.6 422.0,449.1 423.7,449.3 425.4,452.0 427.1,450.7 428.8,452.1 430.5,452.2 432.2,453.2 433.9,453.6 435.6,454.5 437.3,453.4 439.0,455.6 440.7,454.9 442.4,456.0 444.1,456.0 445.8,456.4 447.5,457.5 449.2,457.8 450.9,458.1 452.7,459.6 454.4,459.7 456.1,458.8 457.8,459.8 459.5,460.9 461.2,462.6 462.9,463.0 464.6,462.6 466.3,461.8 468.0,464.3 469.7,463.9 471.4,464.8 473.2,465.7 474.9,466.1 476.6,466.2 478.3,467.8 480.0,467.0 481.7,467.7 483.4,469.6 485.1,468.6 486.8,469.5 488.5,471.6 490.2,470.3 491.9,472.9 493.6,473.3 495.3,473.3 497.0,473.6 498.7,475.5 500.4,476.5 502.1,475.2 503.8,476.8 505.5,477.7 507.2,478.2 508.9,478.5 510.6,478.7 512.3,480.5 514.0,481.7 515.7,480.5 517.4,481.6 519.2,483.8 520.9,484.5 522.7,484.8 524.5,483.9 526.3,486.4 528.0,487.7 529.8,488.5 531.5,488.1 533.2,486.7 534.9,489.1 536.6,487.9 538.3,489.3 540.0,490.4 541.7,490.2 543.4,489.0 545.1,489.8 546.8,491.7 548.5,490.1 550.2,491.5 551.9,491.2 553.6,490.8 555.3,492.2 557.0,490.9 558.7,491.3 560.4,492.3 562.1,491.7 563.8,491.9 565.5,493.5 567.2,494.1 568.9,494.5 570.5,492.5 572.2,493.3 573.8,493.0 575.5,493.8 577.2,493.5 578.8,494.6 580.5,493.2 582.1,492.3 583.8,494.0 585.5,492.6 587.1,493.8 588.8,493.5 590.4,494.6 592.1,493.6 593.7,493.8 595.4,492.8 597.0,493.5 598.7,492.7 600.3,494.0 601.9,493.3 603.6,492.3 605.2,492.5 606.8,492.9 608.5,493.8 610.1,492.3 611.8,493.7 613.4,493.5 615.0,492.0 616.7,493.4 618.3,491.9 620.0,492.0 621.6,493.1 623.2,492.2 624.9,493.8 626.5,492.7 628.1,492.3 629.8,493.5 631.4,491.5 633.1,493.3 634.7,491.5 636.3,491.7 638.0,493.7 639.6,493.0 641.3,491.8 642.9,491.5 644.5,493.7 646.2,492.8 647.8,493.2 649.4,491.4 651.1,492.6 652.7,491.9 654.4,491.5 656.0,491.8" fill="none" stroke="#AA5500" stroke-width="4.7" stroke-linejoin="round" stroke-linecap="round" />
<path d="M69.0,491.3 70.9,492.0 72.8,491.5 74.6,492.0 76.5,491.9 78.4,490.4 80.3,490.2 82.2,492.4 84.1,490.9 86.0,490.8 87.9,492.8 89.8,491.2 91.7,492.0 93.5,490.8 95.4,491.1 97.3,489.6 99.2,490.0 101.1,489.8 103.0,488.1 104.9,487.3 106.8,485.8 108.7,482.3 110.5,482.2 111.8,480.1 113.1,477.6 114.4,475.3 115.2,475.8 116.1,473.1 116.9,472.1 117.7,470.8 118.6,468.7 119.4,467.6 120.3,464.5 121.2,463.9 122.1,461.2 123.0,460.8 123.9,458.9 124.8,455.2 125.7,453.6 126.6,452.1 127.5,452.5 128.4,449.4 129.3,448.3 130.2,445.8 131.1,444.7 132.0,442.8 132.7,440.9 133.3,439.8 134.0,438.0 134.7,437.1 135.3,434.7 136.0,433.6 136.7,431.7 137.3,430.2 138.0,427.6 138.6,424.6 139.2,424.7 139.8,423.2 140.4,421.4 140.9,418.8 141.5,417.4 142.1,414.4 142.7,414.3 143.3,411.9 143.9,409.4 144.5,407.2 145.1,407.6 145.7,406.3 146.3,402.3 146.9,402.4 147.4,399.8 148.0,397.4 148.6,396.1 149.2,395.7 149.8,394.3 150.4,390.5 151.0,390.3 151.5,387.2 152.1,387.3 152.6,384.7 153.2,384.5 153.7,383.2 154.2,380.3 154.8,380.0 155.3,376.6 155.8,374.4 156.4,374.1 156.9,371.0 157.5,369.8 158.0,368.8 158.5,367.7 159.1,364.9 159.6,363.0 160.2,363.5 160.7,360.4 161.2,360.5 161.8,358.7 162.3,355.8 162.8,354.4 163.4,352.9 163.9,351.6 164.5,349.9 165.0,348.2 165.6,346.7 166.2,345.9 166.8,343.1 167.4,341.3 168.0,340.4 168.6,337.6 169.2,336.1 169.8,336.2 170.4,333.4 171.0,331.9 171.6,328.9 172.2,328.3 172.9,327.0 173.6,323.8 174.3,323.6 175.0,322.0 175.6,318.7 176.3,318.5 177.0,316.4 177.7,315.2 178.4,312.6 179.3,311.8 180.3,310.1 181.2,306.4 182.2,304.7 183.2,304.5 184.1,303.5 185.2,299.8 186.4,298.4 187.5,296.8 188.7,294.2 189.8,292.4 190.9,290.7 192.0,289.2 193.2,288.1 194.3,285.7 195.4,284.3 197.5,283.6 199.6,280.0 201.7,279.8 203.6,279.5 205.6,277.7 207.6,276.7 209.5,277.5 211.2,276.3 212.8,276.4 214.5,277.3 216.1,278.3 217.8,277.0 219.7,278.4 221.6,279.3 223.4,281.5 225.3,281.4 227.2,283.3 229.1,282.8 231.0,284.5 232.9,286.6 234.8,288.4 236.7,288.6 238.1,289.6 239.6,290.9 241.0,293.6 242.4,294.3 243.9,297.6 245.3,299.2 246.7,299.2 248.2,301.0 249.6,304.0 251.1,305.2 252.5,307.3 254.0,307.8 255.4,308.9 256.9,311.0 258.4,313.9 259.8,314.2 261.3,316.1 262.7,317.9 264.2,319.6 265.4,321.2 266.7,324.2 267.9,323.9 269.2,325.2 270.4,329.3 271.6,330.7 272.9,332.7 274.1,332.9 275.4,335.9 276.6,337.5 277.7,337.4 278.9,340.4 280.0,342.4 281.1,343.6 282.3,344.9 283.4,346.1 284.6,347.9 285.7,349.3 286.8,350.6 288.0,353.6 289.1,354.5 290.3,357.6 291.5,357.4 292.7,361.3 293.9,362.5 295.1,364.9 296.4,366.5 297.6,368.3 298.8,369.2 300.0,369.4 301.2,373.1 302.4,373.3 303.6,375.4 305.1,378.0 306.5,379.3 308.0,380.7 309.4,383.7 310.9,384.5 312.3,385.4 313.8,386.9 315.2,390.1 316.7,390.8 318.1,393.2 319.9,393.9 321.7,395.3 323.5,397.9 325.2,400.5 327.0,400.6 328.8,404.0 330.6,406.1 332.4,406.8 334.1,407.9 335.9,406.8 337.6,409.4 339.4,411.0 341.1,409.9 342.9,411.3 344.8,412.2 346.6,413.7 348.4,414.2 350.3,415.2 352.1,416.8 353.8,415.6 355.5,416.6 357.2,417.6 358.9,418.4 360.6,419.0 362.3,422.2 364.1,422.7 365.8,421.5 367.5,423.4 369.2,423.7 370.9,424.5 372.6,425.4 374.3,427.0 376.0,427.4 377.7,427.4 379.4,427.6 381.1,428.5 382.8,428.6 384.5,430.3 386.2,431.3 387.9,431.0 389.6,430.8 391.3,431.7 393.0,432.8 394.7,434.0 396.4,435.0 398.1,434.7 399.8,436.5 401.5,436.7 403.2,436.9 404.9,437.4 406.6,438.4 408.4,439.6 410.1,439.6 411.8,441.0 413.5,441.0 415.2,441.2 416.9,442.6 418.6,443.7 420.3,442.6 422.0,444.0 423.7,444.5 425.4,446.2 427.1,446.9 428.8,445.9 430.5,447.8 432.2,448.0 433.9,447.2 435.6,448.2 437.3,447.8 439.0,450.1 440.7,450.2 442.4,451.3 444.1,451.6 445.8,451.8 447.5,452.5 449.2,452.5 450.9,451.9 452.7,453.6 454.4,452.6 456.1,453.5 457.8,455.7 459.5,454.3 461.2,454.9 462.9,455.5 464.6,458.3 466.3,457.3 468.0,457.8 469.7,460.7 471.4,459.7 473.2,462.4 474.9,462.8 476.6,464.0 478.3,465.1 480.0,465.0 481.8,466.1 483.6,464.7 485.4,467.1 487.1,467.0 488.9,468.1 490.7,467.0 492.5,469.2 494.3,470.3 496.0,468.5 497.8,469.7 499.6,470.9 501.4,472.1 503.1,471.1 504.9,471.5 506.7,472.4 508.5,474.0 510.3,475.1 512.0,474.9 513.8,475.5 515.6,476.3 517.4,476.9 519.2,477.6 520.9,477.3 522.7,478.9 524.5,480.6 526.3,479.7 528.0,481.1 529.8,480.1 531.6,482.0 533.4,482.8 535.2,483.1 536.9,483.2 538.7,483.7 540.5,484.6 542.3,485.8 544.1,484.4 545.8,484.8 547.6,487.0 549.4,488.0 551.2,487.5 552.9,487.8 554.7,489.1 556.5,488.0 558.3,488.6 560.1,488.8 561.8,490.2 563.6,489.8 565.4,489.9 567.2,491.5 569.0,492.3 570.7,490.6 572.5,491.8 574.3,491.1 576.1,492.3 577.8,491.7 579.6,491.0 581.3,490.9 582.9,490.4 584.6,491.5 586.2,491.3 587.9,490.7 589.6,491.2 591.2,491.1 592.9,492.3 594.5,490.7 596.2,492.9 597.9,491.5 599.5,491.9 601.2,491.5 602.8,492.5 604.5,492.4 606.2,491.7 607.8,491.6 609.5,492.2 611.1,492.5 612.8,491.3 614.5,492.2 616.1,492.8 617.8,491.5 619.4,490.9 621.1,490.9 622.8,492.2 624.4,492.1 626.1,492.8 627.7,492.5 629.4,490.9 631.1,490.9 632.7,491.1 634.4,491.0 636.0,492.5 637.7,492.9 639.4,493.1 641.0,491.5 642.7,493.2 644.4,491.8 646.0,492.2 647.7,493.1 649.4,491.5 651.0,491.6 652.7,493.6 654.3,492.3 656.0,492.5" fill="none" stroke="#008000" stroke-width="4.7" stroke-linejoin="round" stroke-linecap="round" />
</g>
<line x1="439" y1="67.0" x2="493" y2="67.0" stroke="#000" stroke-width="4"/>
<text x="499.2" y="74.5" font-size="25.4" font-weight="bold">M-22</text>
<line x1="439" y1="99.0" x2="493" y2="99.0" stroke="#FF00FF" stroke-width="4"/>
<text x="499.2" y="106.5" font-size="25.4" font-weight="bold">1Si/M-22</text>
<line x1="439" y1="131.0" x2="493" y2="131.0" stroke="#0000FF" stroke-width="4"/>
<text x="499.2" y="138.5" font-size="25.4" font-weight="bold">2Si/M-22</text>
<line x1="439" y1="162.9" x2="493" y2="162.9" stroke="#008000" stroke-width="4"/>
<text x="499.2" y="170.4" font-size="25.4" font-weight="bold">3Si/M-22</text>
<line x1="439" y1="194.9" x2="493" y2="194.9" stroke="#FF8000" stroke-width="4"/>
<text x="499.2" y="202.4" font-size="25.4" font-weight="bold">4Si/M-22</text>
<line x1="439" y1="226.9" x2="493" y2="226.9" stroke="#AA5500" stroke-width="4"/>
<text x="499.2" y="234.4" font-size="25.4" font-weight="bold">5Si/M-22</text>
<path d="M827.0,506.2C830.3,506.2 840.0,506.4 846.8,506.0C853.5,505.6 862.0,504.8 867.5,503.5C873.0,502.2 876.2,501.4 880.0,498.3C883.8,495.2 887.3,491.6 890.4,484.8C893.5,478.1 896.3,464.7 898.7,457.8C901.1,450.9 903.0,446.6 904.9,443.3C906.8,440.0 908.0,437.1 910.1,438.1C912.2,439.1 914.7,445.2 917.3,449.5C919.9,453.8 922.9,459.5 925.7,464.0C928.5,468.5 931.2,471.3 934.0,476.5C936.8,481.7 938.8,491.2 942.3,495.2C945.8,499.2 950.2,499.1 954.7,500.3C959.2,501.5 964.4,503.6 969.3,502.4C974.1,501.2 979.8,497.1 983.8,493.1C987.8,489.1 990.4,483.9 993.1,478.5C995.8,473.1 997.8,462.6 1000.0,460.9C1002.2,459.2 1003.2,461.6 1006.6,468.2C1010.0,474.8 1015.6,494.4 1020.1,500.3C1024.6,506.2 1027.9,503.0 1033.6,503.5C1039.3,504.0 1047.5,504.0 1054.4,503.5C1061.3,503.0 1068.9,502.4 1075.1,500.3C1081.3,498.2 1086.8,493.8 1091.7,491.0C1096.6,488.2 1100.8,484.6 1104.2,483.7C1107.6,482.8 1107.2,483.3 1112.0,485.5C1116.8,487.7 1127.6,494.9 1132.8,497.0C1138.0,499.1 1139.6,498.5 1143.1,498.0C1146.5,497.5 1149.3,496.6 1153.5,493.8C1157.7,491.0 1162.9,484.7 1168.1,481.4C1173.3,478.1 1180.2,477.6 1184.7,474.1C1189.2,470.6 1191.5,465.8 1195.0,460.6C1198.5,455.4 1202.3,444.4 1205.4,443.0C1208.5,441.6 1210.6,447.6 1213.7,452.3C1216.8,457.0 1221.4,467.6 1224.1,471.0C1226.8,474.4 1226.8,472.5 1230.0,472.5C1233.2,472.5 1238.9,470.9 1243.4,471.1C1247.9,471.3 1252.3,472.0 1256.8,473.8C1261.2,475.6 1265.2,480.3 1270.1,481.9C1275.0,483.5 1281.7,482.1 1286.2,483.2C1290.7,484.3 1292.9,486.5 1296.9,488.5C1300.9,490.5 1305.8,493.4 1310.3,495.2C1314.8,497.0 1318.1,498.3 1323.7,499.3C1329.3,500.3 1337.1,500.9 1343.8,501.3C1350.5,501.7 1357.1,501.9 1363.8,501.7C1370.5,501.5 1376.0,500.0 1383.9,499.9C1391.8,499.8 1406.5,501.1 1411.0,501.3" fill="none" stroke="#808080" stroke-width="4.0" stroke-linejoin="round" stroke-linecap="round" />
<path d="M827.0,465.0C830.3,464.3 841.1,462.4 846.8,460.9C852.5,459.3 856.8,457.9 861.3,455.7C865.8,453.4 869.6,451.9 873.8,447.4C877.9,442.9 882.8,436.6 886.2,428.7C889.7,420.8 891.7,410.1 894.5,399.7C897.3,389.3 900.4,373.7 902.8,366.4C905.2,359.1 906.9,355.8 909.0,356.1C911.1,356.5 912.9,360.6 915.3,368.5C917.7,376.4 920.8,395.5 923.6,403.8C926.4,412.1 928.8,411.7 931.9,418.3C935.0,424.9 938.5,437.6 942.3,443.3C946.1,449.0 949.9,451.1 954.7,452.6C959.5,454.2 966.4,455.2 971.3,452.6C976.1,450.0 980.3,443.8 983.8,437.0C987.3,430.2 989.4,420.8 992.1,412.1C994.8,403.5 997.2,384.4 1000.0,385.1C1002.8,385.8 1005.5,405.8 1008.7,416.3C1011.9,426.9 1015.3,442.4 1019.1,448.4C1022.9,454.3 1028.0,450.8 1031.5,452.0C1035.0,453.2 1036.0,455.6 1039.8,455.7C1043.6,455.8 1048.9,453.7 1054.4,452.6C1060.0,451.5 1067.6,451.7 1073.1,449.1C1078.6,446.5 1082.6,441.3 1087.6,437.0C1092.6,432.7 1099.1,425.3 1103.2,423.5C1107.3,421.7 1107.4,424.0 1112.0,426.4C1116.6,428.8 1126.0,435.1 1130.7,437.8C1135.4,440.5 1136.2,443.8 1140.0,442.4C1143.8,441.0 1148.8,434.4 1153.5,429.5C1158.2,424.6 1163.2,417.4 1168.1,412.9C1172.9,408.4 1178.1,408.0 1182.6,402.5C1187.1,397.0 1191.1,386.4 1195.0,379.7C1198.9,372.9 1202.7,362.7 1205.8,362.0C1208.9,361.3 1210.7,368.8 1213.7,375.5C1216.8,382.2 1221.0,397.2 1224.1,402.5C1227.1,407.8 1229.7,406.8 1232.0,407.5C1234.3,408.2 1235.2,407.5 1238.0,406.9C1240.8,406.2 1245.4,403.6 1248.7,403.6C1252.0,403.6 1254.8,404.8 1258.1,406.9C1261.4,409.0 1265.9,414.5 1268.8,416.3C1271.7,418.1 1273.0,417.7 1275.5,417.6C1278.0,417.5 1280.4,414.0 1283.5,415.6C1286.6,417.2 1290.6,423.9 1294.2,427.0C1297.8,430.1 1301.3,432.5 1304.9,434.3C1308.5,436.1 1312.2,436.2 1315.6,437.7C1318.9,439.2 1320.3,442.4 1325.0,443.3C1329.7,444.2 1337.3,442.9 1343.8,443.0C1350.3,443.1 1358.2,444.1 1363.8,443.7C1369.4,443.3 1372.7,441.1 1377.2,440.4C1381.7,439.7 1385.0,439.5 1390.6,439.7C1396.2,439.9 1407.6,441.4 1411.0,441.7" fill="none" stroke="#000" stroke-width="4.0" stroke-linejoin="round" stroke-linecap="round" />
<path d="M827.0,408.0C830.3,407.6 840.0,407.3 846.8,405.9C853.5,404.5 862.0,402.5 867.5,399.7C873.0,396.9 876.5,393.8 880.0,389.3C883.5,384.8 885.5,382.4 888.3,372.7C891.1,363.0 894.2,341.9 896.6,331.2C899.0,320.5 900.7,313.8 902.8,308.3C904.9,302.8 906.9,298.0 909.0,298.0C911.1,298.0 912.9,302.4 915.3,308.3C917.7,314.2 920.8,326.4 923.6,333.3C926.4,340.2 928.8,341.9 931.9,349.9C935.0,357.8 938.5,373.7 942.3,381.0C946.1,388.3 949.9,391.2 954.7,393.5C959.5,395.8 966.4,396.2 971.3,394.5C976.1,392.8 980.3,388.1 983.8,383.1C987.3,378.1 989.5,371.8 992.1,364.4C994.7,356.9 997.5,342.7 999.4,338.4C1001.3,334.1 1001.6,334.4 1003.5,338.4C1005.4,342.4 1008.0,353.8 1010.8,362.3C1013.6,370.8 1016.6,384.3 1020.1,389.3C1023.6,394.3 1028.2,391.2 1031.5,392.4C1034.8,393.6 1036.0,396.4 1039.8,396.6C1043.6,396.8 1048.9,394.6 1054.4,393.5C1060.0,392.4 1067.6,392.4 1073.1,390.3C1078.6,388.2 1082.6,384.4 1087.6,381.0C1092.6,377.6 1099.1,371.2 1103.2,369.6C1107.3,368.0 1107.4,369.7 1112.0,371.3C1116.6,372.9 1126.0,377.5 1130.7,379.2C1135.4,380.9 1136.2,382.9 1140.0,381.3C1143.8,379.7 1148.8,374.8 1153.5,369.3C1158.2,363.8 1163.2,353.7 1168.1,348.5C1172.9,343.3 1178.1,342.6 1182.6,338.1C1187.1,333.6 1191.2,327.7 1195.0,321.5C1198.8,315.3 1202.3,302.2 1205.4,300.8C1208.5,299.4 1210.2,305.6 1213.7,313.2C1217.2,320.8 1223.5,340.5 1226.2,346.4C1228.9,352.2 1228.0,348.2 1230.0,348.3C1232.0,348.4 1234.9,347.6 1238.0,346.7C1241.1,345.8 1245.4,342.8 1248.7,342.7C1252.0,342.6 1254.5,343.4 1258.1,346.0C1261.7,348.6 1267.2,355.9 1270.1,358.1C1273.0,360.3 1273.3,359.5 1275.5,359.4C1277.7,359.3 1280.6,356.7 1283.5,357.4C1286.4,358.1 1289.3,361.1 1292.9,363.4C1296.5,365.7 1301.1,369.6 1304.9,371.4C1308.7,373.2 1312.2,372.8 1315.6,374.1C1318.9,375.5 1320.3,378.4 1325.0,379.5C1329.7,380.6 1337.3,380.5 1343.8,380.8C1350.3,381.1 1358.2,381.5 1363.8,381.2C1369.4,380.9 1372.7,379.2 1377.2,378.8C1381.7,378.4 1385.0,378.7 1390.6,378.8C1396.2,378.9 1407.6,379.4 1411.0,379.5" fill="none" stroke="#FF00FF" stroke-width="4.0" stroke-linejoin="round" stroke-linecap="round" />
<path d="M827.0,336.4C830.3,336.0 840.0,335.5 846.8,334.3C853.5,333.1 862.0,331.7 867.5,329.1C873.0,326.5 875.9,323.9 880.0,318.7C884.1,313.5 888.9,305.6 892.4,298.0C895.9,290.4 897.9,280.3 900.7,273.0C903.5,265.7 906.2,254.4 909.0,254.4C911.8,254.4 914.5,265.7 917.3,273.0C920.1,280.3 922.9,292.1 925.7,298.0C928.5,303.9 930.9,303.8 934.0,308.3C937.1,312.8 940.5,321.2 944.3,325.0C948.1,328.8 952.3,330.2 956.8,331.2C961.3,332.2 966.8,333.3 971.3,331.2C975.8,329.1 980.3,324.2 983.8,318.7C987.3,313.2 989.5,305.1 992.1,298.0C994.7,290.9 996.6,275.5 999.4,276.2C1002.2,276.9 1005.4,293.5 1008.7,302.1C1012.0,310.8 1015.3,323.1 1019.1,328.1C1022.9,333.1 1028.0,331.1 1031.5,332.2C1035.0,333.3 1036.0,334.8 1039.8,334.9C1043.6,335.0 1049.2,333.6 1054.4,332.8C1059.6,332.0 1065.8,331.9 1071.0,330.1C1076.2,328.3 1080.1,325.4 1085.5,321.8C1090.9,318.2 1098.8,309.9 1103.2,308.3C1107.6,306.7 1109.0,310.2 1112.0,312.0C1115.0,313.8 1117.9,317.2 1121.0,319.0C1124.1,320.8 1127.4,321.5 1130.7,322.6C1134.0,323.7 1137.3,326.6 1141.1,325.7C1144.9,324.8 1149.0,320.9 1153.5,317.3C1158.0,313.7 1163.6,307.1 1168.1,303.8C1172.6,300.5 1176.0,302.1 1180.5,297.6C1185.0,293.1 1190.8,282.9 1195.0,276.8C1199.2,270.8 1202.3,262.3 1205.4,261.3C1208.5,260.3 1210.6,264.9 1213.7,270.6C1216.8,276.3 1221.4,291.1 1224.1,295.5C1226.8,299.9 1226.1,297.6 1230.0,297.3C1233.9,297.0 1243.2,293.9 1247.6,293.5C1252.0,293.1 1253.5,293.4 1256.4,294.8C1259.4,296.2 1262.6,299.8 1265.3,301.7C1268.0,303.6 1269.9,305.6 1272.8,306.1C1275.7,306.6 1279.5,303.8 1282.9,304.9C1286.3,306.0 1289.7,310.4 1293.0,313.0C1296.3,315.6 1299.2,318.8 1303.0,320.6C1306.8,322.4 1312.0,322.5 1315.6,323.8C1319.2,325.1 1319.9,327.3 1324.5,328.2C1329.1,329.1 1337.1,328.9 1343.4,329.2C1349.7,329.4 1356.8,330.0 1362.2,329.7C1367.7,329.4 1370.8,327.9 1376.1,327.5C1381.3,327.1 1387.9,327.0 1393.7,327.2C1399.5,327.4 1408.1,328.5 1411.0,328.8" fill="none" stroke="#1E3CFF" stroke-width="4.0" stroke-linejoin="round" stroke-linecap="round" />
<path d="M827.0,306.3C830.3,305.4 841.1,303.4 846.8,301.1C852.5,298.9 856.8,296.4 861.3,292.8C865.8,289.2 869.6,284.3 873.8,279.3C877.9,274.3 882.4,270.0 886.2,262.7C890.0,255.4 892.8,245.0 896.6,235.7C900.4,226.3 905.5,209.7 909.0,206.6C912.5,203.5 914.5,211.5 917.3,217.0C920.1,222.5 922.9,233.6 925.7,239.8C928.5,246.0 931.2,247.8 934.0,254.4C936.8,261.0 938.8,273.9 942.3,279.3C945.8,284.7 951.2,285.4 954.7,286.5C958.2,287.6 959.9,285.5 963.0,285.9C966.1,286.2 969.2,290.1 973.4,288.6C977.5,287.2 983.4,281.5 987.9,277.2C992.4,272.9 996.6,262.7 1000.4,262.7C1004.2,262.7 1007.3,273.2 1010.8,277.2C1014.3,281.2 1017.9,285.3 1021.2,286.5C1024.5,287.7 1027.4,283.8 1030.5,284.5C1033.6,285.2 1035.1,290.7 1039.8,290.7C1044.5,290.7 1052.6,285.5 1058.5,284.5C1064.4,283.5 1068.9,286.1 1075.1,284.5C1081.3,282.9 1090.7,276.2 1095.9,275.1C1101.1,274.1 1103.6,277.6 1106.3,278.2C1109.0,278.8 1107.8,279.8 1112.0,278.5C1116.2,277.2 1127.2,271.6 1131.7,270.6C1136.2,269.6 1135.4,275.1 1139.0,272.7C1142.6,270.3 1148.7,262.2 1153.5,256.1C1158.3,250.1 1163.9,240.6 1168.1,236.4C1172.2,232.2 1174.6,234.1 1178.4,231.2C1182.2,228.2 1186.8,223.0 1190.9,218.7C1195.1,214.4 1199.8,205.9 1203.3,205.2C1206.8,204.5 1208.2,207.8 1211.7,214.6C1215.2,221.3 1221.0,239.8 1224.1,245.7C1227.1,251.6 1228.0,248.9 1230.0,250.1C1232.0,251.2 1233.6,252.4 1236.3,252.6C1239.0,252.8 1243.2,250.9 1246.4,251.3C1249.6,251.7 1251.6,253.5 1255.2,255.1C1258.8,256.7 1264.7,259.7 1267.8,260.8C1270.9,261.9 1271.6,261.9 1274.1,261.7C1276.6,261.5 1279.8,259.1 1282.9,259.5C1286.1,259.9 1289.7,263.3 1293.0,263.9C1296.3,264.5 1300.1,263.0 1303.0,263.3C1305.9,263.6 1308.3,265.6 1310.6,265.8C1312.9,266.0 1314.6,263.9 1316.9,264.6C1319.2,265.3 1321.6,269.6 1324.5,270.2C1327.4,270.8 1330.3,268.4 1334.5,268.0C1338.7,267.6 1344.3,267.5 1349.6,267.5C1354.8,267.5 1361.6,268.4 1366.0,268.0C1370.4,267.6 1373.1,265.3 1376.1,265.2C1379.0,265.1 1379.7,267.3 1383.7,267.1C1387.7,266.9 1395.5,264.4 1400.0,264.2C1404.5,264.0 1409.2,265.5 1411.0,265.8" fill="none" stroke="#008000" stroke-width="4.0" stroke-linejoin="round" stroke-linecap="round" />
<path d="M827.0,250.7C830.3,250.0 841.1,248.1 846.8,246.6C852.5,245.1 857.5,242.4 861.3,241.4C865.1,240.4 865.5,242.7 869.6,240.3C873.8,237.9 881.7,234.0 886.2,226.9C890.7,219.8 892.8,207.2 896.6,197.8C900.4,188.5 905.2,171.5 909.0,170.8C912.8,170.1 915.9,186.7 919.4,193.6C922.9,200.5 926.0,205.6 929.8,212.3C933.6,219.1 938.1,230.1 942.3,234.1C946.4,238.1 949.5,235.7 954.7,236.2C959.9,236.7 967.9,238.8 973.4,237.2C978.9,235.6 983.4,231.4 987.9,226.9C992.4,222.4 996.6,210.9 1000.4,210.2C1004.2,209.5 1007.3,218.7 1010.8,222.7C1014.3,226.7 1017.9,232.7 1021.2,234.1C1024.5,235.5 1027.4,230.7 1030.5,231.0C1033.6,231.3 1035.8,236.0 1039.8,236.2C1043.8,236.4 1048.5,233.0 1054.4,232.0C1060.3,231.0 1068.2,231.7 1075.1,230.0C1082.0,228.3 1091.1,222.8 1095.9,221.7C1100.7,220.6 1101.3,223.3 1104.0,223.5C1106.7,223.7 1107.4,223.5 1112.0,222.9C1116.6,222.3 1127.2,219.5 1131.7,219.8C1136.2,220.1 1135.4,225.7 1139.0,224.5C1142.6,223.3 1148.7,216.6 1153.5,212.5C1158.3,208.4 1162.6,203.8 1168.1,200.0C1173.6,196.2 1181.5,194.2 1186.7,189.7C1191.9,185.2 1196.1,176.8 1199.2,173.0C1202.3,169.2 1203.3,166.8 1205.4,166.8C1207.5,166.8 1208.6,167.5 1211.7,173.0C1214.8,178.5 1221.0,194.8 1224.1,200.0C1227.1,205.2 1227.8,203.3 1230.0,204.2C1232.2,205.1 1234.7,205.6 1237.6,205.2C1240.5,204.8 1244.2,202.0 1247.6,201.7C1250.9,201.4 1253.9,202.2 1257.7,203.6C1261.5,205.0 1266.3,209.3 1270.3,209.9C1274.3,210.5 1278.2,207.3 1281.6,207.4C1285.0,207.5 1286.5,209.9 1290.5,210.5C1294.5,211.1 1301.4,210.5 1305.6,210.8C1309.8,211.1 1312.7,211.2 1315.6,212.4C1318.5,213.7 1320.0,217.8 1323.2,218.3C1326.4,218.8 1330.1,216.1 1334.5,215.6C1338.9,215.1 1344.8,215.3 1349.6,215.3C1354.4,215.3 1359.1,216.0 1363.5,215.6C1367.9,215.2 1372.7,212.8 1376.1,212.8C1379.5,212.8 1379.7,215.7 1383.7,215.6C1387.7,215.5 1395.5,212.3 1400.0,212.0C1404.5,211.7 1409.2,213.4 1411.0,213.7" fill="none" stroke="#FF8000" stroke-width="4.0" stroke-linejoin="round" stroke-linecap="round" />
<path d="M827.0,199.9C830.3,199.2 841.1,197.1 846.8,195.7C852.5,194.3 857.5,192.6 861.3,191.6C865.1,190.6 866.5,191.6 869.6,189.5C872.7,187.4 876.9,182.2 880.0,179.1C883.1,176.0 885.5,175.7 888.3,170.8C891.1,166.0 894.2,156.2 896.6,150.0C899.0,143.8 900.7,137.2 902.8,133.4C904.9,129.6 906.9,127.2 909.0,127.2C911.1,127.2 912.9,128.9 915.3,133.4C917.7,137.9 920.8,148.3 923.6,154.2C926.4,160.1 928.8,163.3 931.9,168.7C935.0,174.1 938.5,183.1 942.3,186.4C946.1,189.7 951.2,188.3 954.7,188.4C958.2,188.5 959.9,186.9 963.0,187.0C966.1,187.1 969.2,190.0 973.4,189.0C977.5,188.0 983.6,183.5 987.9,181.2C992.2,178.9 995.9,175.2 999.4,175.0C1002.9,174.8 1005.1,178.0 1008.7,180.1C1012.3,182.2 1017.6,186.9 1021.2,187.4C1024.8,187.9 1027.4,183.0 1030.5,183.3C1033.6,183.7 1035.8,189.2 1039.8,189.5C1043.8,189.8 1048.5,186.2 1054.4,185.3C1060.3,184.4 1068.2,185.2 1075.1,184.3C1082.0,183.4 1090.7,180.1 1095.9,180.1C1101.1,180.1 1103.6,183.8 1106.3,184.3C1109.0,184.9 1109.4,184.4 1112.0,183.4C1114.6,182.4 1118.7,180.1 1122.0,178.5C1125.3,176.9 1128.9,174.3 1131.7,174.1C1134.5,173.9 1135.4,178.8 1139.0,177.2C1142.6,175.6 1148.7,169.0 1153.5,164.7C1158.3,160.4 1162.2,155.3 1168.1,151.2C1174.0,147.0 1183.6,143.8 1188.8,139.8C1194.0,135.8 1196.4,130.2 1199.2,127.4C1202.0,124.6 1203.3,122.9 1205.4,123.2C1207.5,123.5 1208.9,124.9 1211.7,129.4C1214.5,133.9 1219.0,145.1 1222.0,150.2C1225.0,155.3 1227.4,157.9 1230.0,160.2C1232.6,162.5 1235.1,163.6 1237.6,163.9C1240.1,164.2 1242.2,161.8 1245.1,162.0C1248.0,162.2 1251.6,164.2 1255.2,165.2C1258.8,166.2 1262.3,168.0 1266.5,168.0C1270.7,168.0 1276.6,165.1 1280.4,165.2C1284.2,165.2 1285.4,168.3 1289.2,168.3C1293.0,168.3 1299.7,165.5 1303.0,165.2C1306.3,164.9 1307.0,166.6 1309.3,166.7C1311.6,166.8 1314.6,165.1 1316.9,165.8C1319.2,166.5 1320.3,170.5 1323.2,170.9C1326.1,171.3 1330.1,168.8 1334.5,168.3C1338.9,167.8 1345.0,167.9 1349.6,168.0C1354.2,168.1 1357.8,169.1 1362.2,168.7C1366.6,168.3 1372.3,165.9 1376.1,165.8C1379.9,165.7 1380.9,168.4 1384.9,168.3C1388.9,168.2 1395.7,165.7 1400.0,165.4C1404.3,165.1 1409.2,166.5 1411.0,166.7" fill="none" stroke="#AD5305" stroke-width="4.0" stroke-linejoin="round" stroke-linecap="round" />
<rect x="876" y="124.3" width="77.8" height="404.2" fill="rgb(250,218,188)" fill-opacity="0.45" stroke="rgb(248,200,160)" stroke-opacity="0.7" stroke-width="1.2"/>
<rect x="1075.3" y="123.3" width="57" height="406" fill="rgb(135,142,250)" fill-opacity="0.26" stroke="rgb(160,175,250)" stroke-opacity="0.45" stroke-width="1.2"/>
<text x="910.2" y="81.2" font-size="32" font-weight="bold" text-anchor="middle">LA</text>
<text x="1102.8" y="84.6" font-size="32" font-weight="bold" text-anchor="middle">BA</text>
<text x="869.6" y="119.9" font-size="28.2" font-weight="bold">1440 cm<tspan font-size="18.5" dy="-12">-1</tspan></text>
<text x="1065.2" y="121" font-size="28.2" font-weight="bold">1540 cm<tspan font-size="18.5" dy="-12">-1</tspan></text>
<text x="1402.6" y="162.6" font-size="25.4" font-weight="bold" text-anchor="end">5Si/M-22</text>
<text x="1402.6" y="210.2" font-size="25.4" font-weight="bold" text-anchor="end">4Si/M-22</text>
<text x="1402.6" y="261.3" font-size="25.4" font-weight="bold" text-anchor="end">3Si/M-22</text>
<text x="1402.6" y="317" font-size="25.4" font-weight="bold" text-anchor="end">2Si/M-22</text>
<text x="1402.6" y="367.2" font-size="25.4" font-weight="bold" text-anchor="end">1Si/M-22</text>
<text x="1402.6" y="436.1" font-size="25.4" font-weight="bold" text-anchor="end">M-22</text>
<text x="1402.6" y="481.4" font-size="25.4" font-weight="bold" text-anchor="end">ZZO&amp;M-22</text>
<path d="M71.5,1137.7C81.6,1137.3 115.3,1136.5 132.3,1135.6C149.4,1134.7 160.0,1134.0 173.8,1132.5C187.6,1131.0 207.6,1127.5 215.3,1126.3C223.0,1125.1 217.6,1125.0 220.0,1125.5C222.4,1126.0 225.2,1129.0 230.0,1129.1C234.8,1129.1 242.6,1127.0 248.9,1125.8C255.2,1124.6 262.3,1123.2 267.8,1122.0C273.3,1120.8 277.3,1119.9 282.0,1118.3C286.7,1116.7 292.2,1114.8 296.1,1112.6C300.0,1110.4 302.8,1107.8 305.6,1105.0C308.5,1102.2 310.8,1098.8 313.2,1095.6C315.6,1092.4 317.9,1089.2 319.8,1086.1C321.7,1082.9 322.9,1080.3 324.5,1076.7C326.1,1073.1 327.6,1069.1 329.2,1064.4C330.8,1059.7 332.4,1053.4 333.9,1048.3C335.4,1043.2 336.7,1038.8 338.0,1034.0C339.3,1029.2 340.3,1024.2 341.5,1019.3C342.7,1014.4 343.8,1009.1 345.0,1004.5C346.2,999.9 347.3,994.3 348.6,991.5C349.9,988.7 351.3,987.7 352.7,987.7C354.1,987.7 355.6,988.7 356.8,991.5C358.0,994.3 358.8,999.9 359.8,1004.5C360.8,1009.1 361.8,1014.4 362.7,1019.3C363.6,1024.2 364.4,1029.1 365.1,1034.0C365.9,1038.9 366.5,1044.4 367.2,1048.8C367.9,1053.2 367.7,1052.2 369.2,1060.3C370.7,1068.4 373.8,1087.4 376.1,1097.6C378.4,1107.8 380.7,1115.7 383.0,1121.2C385.3,1126.8 387.9,1128.8 390.0,1130.9C392.1,1133.0 394.1,1134.2 395.9,1134.0C397.7,1133.8 399.6,1132.5 400.9,1129.8C402.2,1127.1 402.7,1125.0 403.5,1118.0C404.3,1111.0 405.1,1089.3 405.9,1088.0C406.6,1086.7 407.3,1102.2 408.0,1110.0C408.7,1117.8 409.3,1129.8 410.0,1135.0C410.7,1140.2 411.3,1140.6 412.2,1141.1C413.1,1141.6 414.4,1140.1 415.5,1138.0C416.6,1135.9 417.9,1128.2 419.0,1128.3C420.1,1128.3 420.4,1135.9 422.1,1138.3C423.8,1140.7 424.6,1142.0 429.2,1142.5C433.8,1143.0 438.2,1141.3 450.0,1141.0C461.8,1140.7 465.7,1140.6 500.0,1140.5C534.3,1140.4 630.0,1140.3 656.0,1140.3" fill="none" stroke="#000" stroke-width="4" stroke-linejoin="round" stroke-linecap="round" />
<path d="M71.5,1066.1C81.6,1065.8 115.3,1064.8 132.3,1064.0C149.4,1063.2 160.0,1062.7 173.8,1061.5C187.6,1060.3 205.9,1057.3 215.3,1056.7C224.7,1056.1 224.4,1058.2 230.0,1057.8C235.6,1057.4 242.6,1055.7 248.9,1054.5C255.2,1053.3 261.5,1052.0 267.8,1050.7C274.1,1049.4 281.2,1048.1 286.7,1046.5C292.2,1044.9 297.3,1042.6 300.9,1041.3C304.5,1040.0 305.3,1040.2 308.1,1038.7C310.9,1037.2 314.7,1034.8 317.6,1032.4C320.6,1030.0 323.4,1027.0 325.8,1024.2C328.2,1021.4 330.2,1018.8 332.1,1015.4C334.0,1012.0 335.5,1007.9 337.1,1004.1C338.7,1000.3 340.1,996.7 341.5,992.7C342.9,988.7 344.1,984.2 345.3,980.2C346.5,976.2 347.5,972.2 348.5,968.8C349.5,965.3 350.0,964.3 351.2,959.5C352.4,954.7 354.5,944.4 355.7,940.0C356.9,935.6 357.1,934.7 358.1,933.2C359.1,931.8 360.4,931.2 361.5,931.3C362.6,931.3 363.5,931.5 364.5,933.5C365.5,935.5 366.3,936.1 367.5,943.0C368.7,949.9 370.1,965.7 371.6,975.0C373.1,984.3 374.7,991.2 376.3,998.6C377.9,1006.0 379.6,1013.2 381.0,1019.3C382.4,1025.4 383.4,1031.5 384.6,1035.2C385.8,1038.9 386.9,1039.7 388.0,1041.5C389.1,1043.3 390.3,1044.8 391.5,1045.8C392.7,1046.8 393.8,1047.5 395.0,1047.6C396.2,1047.7 397.5,1047.4 398.5,1046.5C399.5,1045.6 400.4,1043.4 401.0,1042.0C401.6,1040.6 401.7,1039.9 402.4,1038.1C403.1,1036.3 404.0,1029.3 405.2,1031.2C406.4,1033.1 408.1,1043.1 409.3,1049.2C410.5,1055.3 410.7,1065.0 412.1,1068.0C413.5,1071.0 416.0,1067.0 417.6,1067.2C419.2,1067.4 418.3,1069.1 421.8,1069.3C425.3,1069.5 425.4,1068.7 438.4,1068.6C451.4,1068.5 463.7,1068.6 500.0,1068.6C536.3,1068.6 630.0,1068.6 656.0,1068.6" fill="none" stroke="#FF00FF" stroke-width="4" stroke-linejoin="round" stroke-linecap="round" />
<path d="M71.5,1019.4C81.6,1019.0 115.3,1018.1 132.3,1017.3C149.4,1016.5 160.0,1016.1 173.8,1014.8C187.6,1013.5 205.9,1010.5 215.3,1009.6C224.7,1008.7 224.4,1010.2 230.0,1009.6C235.6,1009.0 242.6,1007.4 248.9,1006.3C255.2,1005.2 261.5,1004.2 267.8,1003.0C274.1,1001.8 281.2,1000.4 286.7,999.2C292.2,998.0 297.8,996.8 300.9,996.0C303.9,995.2 302.8,995.7 305.0,994.6C307.2,993.5 311.2,991.9 314.4,989.6C317.5,987.3 321.1,983.8 323.9,980.8C326.7,977.8 329.0,974.8 331.4,971.3C333.8,967.8 336.5,963.7 338.4,960.0C340.2,956.3 341.3,953.0 342.5,949.0C343.7,945.0 344.5,940.2 345.5,936.0C346.5,931.8 347.5,927.3 348.5,923.5C349.5,919.7 350.3,917.2 351.4,913.1C352.5,909.0 354.1,902.9 355.2,898.9C356.3,894.9 357.2,892.5 358.1,889.4C359.1,886.2 360.1,882.1 360.9,880.0C361.7,877.9 362.2,876.8 363.0,876.5C363.8,876.2 364.6,877.0 365.4,878.5C366.2,880.0 366.5,879.2 367.8,885.7C369.1,892.2 371.3,906.7 373.4,917.5C375.5,928.3 378.0,939.4 380.3,950.7C382.6,962.0 385.1,977.1 387.2,985.3C389.3,993.5 391.1,996.7 392.7,1000.0C394.3,1003.3 395.0,1004.5 396.9,1004.9C398.8,1005.2 401.9,1000.5 403.8,1002.1C405.7,1003.7 406.9,1011.1 408.0,1014.6C409.1,1018.1 409.6,1021.8 410.7,1022.9C411.8,1024.0 413.5,1022.8 414.9,1021.5C416.3,1020.2 417.4,1015.1 419.0,1015.3C420.6,1015.5 421.4,1021.8 424.6,1022.9C427.8,1024.0 425.8,1022.4 438.4,1022.2C451.0,1022.0 463.7,1021.6 500.0,1021.5C536.3,1021.4 630.0,1021.7 656.0,1021.7" fill="none" stroke="#0000FF" stroke-width="4" stroke-linejoin="round" stroke-linecap="round" />
<path d="M71.5,969.5C81.6,969.2 115.3,968.2 132.3,967.5C149.4,966.8 160.0,966.4 173.8,965.4C187.6,964.4 205.9,962.0 215.3,961.2C224.7,960.4 224.4,961.2 230.0,960.5C235.6,959.8 242.6,958.3 248.9,957.2C255.2,956.1 261.5,955.0 267.8,953.9C274.1,952.8 281.2,951.7 286.7,950.6C292.2,949.5 297.0,948.4 300.9,947.2C304.8,946.0 307.1,945.1 310.3,943.5C313.5,941.9 317.4,939.5 319.8,937.8C322.2,936.1 322.9,935.5 325.0,933.4C327.1,931.2 330.0,928.0 332.1,924.9C334.2,921.8 336.2,917.8 337.8,914.5C339.4,911.2 340.3,908.4 341.5,905.0C342.7,901.6 343.8,897.6 344.8,894.2C345.8,890.8 346.4,890.5 347.7,884.7C349.0,878.9 351.0,866.7 352.4,859.3C353.8,851.9 354.9,845.9 356.2,840.4C357.5,834.9 358.9,829.6 360.0,826.2C361.1,822.8 361.9,820.4 362.8,819.8C363.7,819.2 364.5,820.1 365.3,822.5C366.1,824.9 366.7,827.4 367.8,834.0C368.9,840.6 370.1,851.1 372.0,862.0C373.9,872.9 376.6,888.9 378.9,899.5C381.2,910.1 383.5,918.2 385.8,925.8C388.1,933.4 390.6,941.1 392.7,945.2C394.8,949.4 396.4,949.9 398.3,950.7C400.2,951.5 402.0,947.5 403.8,950.0C405.6,952.5 407.5,964.0 409.3,966.0C411.1,968.0 413.3,965.1 414.9,961.8C416.5,958.4 417.6,945.4 419.0,945.9C420.4,946.4 421.8,960.8 423.2,964.6C424.6,968.4 422.5,967.9 427.3,968.7C432.1,969.5 440.1,969.2 452.2,969.4C464.3,969.6 466.0,970.0 500.0,970.1C534.0,970.2 630.0,969.9 656.0,969.9" fill="none" stroke="#008000" stroke-width="4" stroke-linejoin="round" stroke-linecap="round" />
<path d="M71.5,915.5C81.6,915.1 111.8,914.3 132.3,913.4C152.8,912.5 180.8,911.2 194.6,910.3C208.4,909.4 209.4,908.5 215.3,908.2C221.2,907.9 224.4,909.2 230.0,908.7C235.6,908.2 242.6,906.5 248.9,905.4C255.2,904.3 261.5,903.2 267.8,902.1C274.1,901.0 280.4,899.9 286.7,898.7C293.0,897.5 300.1,896.6 305.6,895.0C311.1,893.4 315.9,891.2 319.8,888.8C323.7,886.4 326.4,883.0 328.8,880.5C331.2,878.0 332.3,875.9 334.0,873.5C335.7,871.1 337.2,869.7 339.2,865.9C341.2,862.1 343.9,855.8 345.8,850.8C347.7,845.8 349.1,841.0 350.5,835.6C351.9,830.2 353.0,824.1 354.3,818.6C355.6,813.1 356.9,806.6 358.1,802.6C359.3,798.6 360.4,796.2 361.4,794.6C362.3,793.0 363.0,793.1 363.8,793.3C364.6,793.4 365.4,793.8 366.3,795.5C367.2,797.2 367.8,798.5 369.2,803.5C370.6,808.5 372.8,816.1 374.7,825.6C376.6,835.1 378.2,851.5 380.3,860.8C382.4,870.1 384.9,876.0 387.2,881.5C389.5,887.0 392.0,891.2 394.1,894.0C396.2,896.8 397.9,897.6 399.7,898.1C401.5,898.6 403.4,894.6 405.2,896.7C407.0,898.8 409.1,907.8 410.7,910.6C412.3,913.4 413.5,914.2 414.9,913.4C416.3,912.6 417.6,905.9 419.0,905.7C420.4,905.5 421.3,910.5 423.2,912.0C425.1,913.5 425.3,914.1 430.1,914.7C434.9,915.3 440.6,915.2 452.2,915.4C463.8,915.6 466.0,916.0 500.0,916.1C534.0,916.2 630.0,916.1 656.0,916.1" fill="none" stroke="#EF8028" stroke-width="4" stroke-linejoin="round" stroke-linecap="round" />
<path d="M71.5,859.0C81.6,858.7 115.3,857.8 132.3,857.3C149.4,856.8 160.3,856.8 173.8,856.3C187.3,855.8 205.9,854.7 213.3,854.2C220.7,853.7 216.3,853.2 218.0,853.5C219.7,853.8 221.6,855.3 223.6,855.7C225.6,856.1 225.8,856.0 230.0,855.7C234.2,855.4 242.6,854.3 248.9,853.9C255.2,853.5 261.5,853.0 267.8,853.1C274.1,853.2 280.4,854.5 286.7,854.6C293.0,854.8 300.1,854.5 305.6,854.0C311.1,853.5 316.4,852.2 319.8,851.5C323.2,850.8 324.1,850.5 326.0,849.8C327.9,849.1 329.6,848.2 331.0,847.4C332.4,846.6 333.3,846.2 334.5,845.1C335.7,844.0 336.9,842.4 338.0,840.8C339.1,839.2 339.8,838.4 341.1,835.6C342.4,832.9 344.6,828.7 345.8,824.3C347.1,819.9 347.8,813.8 348.6,809.2C349.4,804.6 349.8,801.5 350.4,796.8C351.0,792.1 351.4,786.2 352.1,781.1C352.8,776.0 353.6,771.2 354.4,766.3C355.2,761.4 355.9,756.0 356.8,751.6C357.7,747.2 358.8,742.6 359.8,739.8C360.8,737.0 361.7,734.7 362.7,734.7C363.7,734.7 364.7,737.0 365.7,739.8C366.7,742.6 367.5,747.2 368.6,751.6C369.7,756.0 370.9,761.4 372.2,766.3C373.5,771.2 374.9,776.2 376.3,781.1C377.7,786.0 378.8,791.4 380.4,795.8C382.0,800.2 383.5,803.1 385.8,807.6C388.1,812.1 391.3,819.3 394.1,822.9C396.9,826.5 400.1,827.7 402.4,829.1C404.7,830.5 406.2,830.1 408.0,831.2C409.8,832.4 411.4,834.4 413.0,836.0C414.6,837.6 416.2,841.6 417.6,840.9C419.0,840.2 419.9,832.4 421.1,831.9C422.3,831.4 421.7,836.4 424.6,838.1C427.5,839.8 431.5,840.8 438.4,842.2C445.3,843.6 455.8,845.4 466.1,846.4C476.4,847.4 483.4,847.7 500.0,848.5C516.5,849.3 539.4,850.4 565.4,851.4C591.4,852.4 640.9,854.2 656.0,854.7" fill="none" stroke="#AD5000" stroke-width="4" stroke-linejoin="round" stroke-linecap="round" />
<line x1="351.3" y1="744.0" x2="351.3" y2="1153.0" stroke="#000" stroke-width="4.2" stroke-dasharray="8.7 6.65"/>
<line x1="406.1" y1="806.3" x2="406.1" y2="1153.0" stroke="#000" stroke-width="4.2" stroke-dasharray="8.7 6.65"/>
<text x="337.8" y="728.8" font-size="28.4" font-weight="bold">3.9 ppm</text>
<text x="390.8" y="794.5" font-size="28.2" font-weight="bold">1.8 ppm</text>
<text x="632.3" y="845.9" font-size="25.4" font-weight="bold" text-anchor="end">5Si/M-22</text>
<text x="634.3" y="905.4" font-size="25.4" font-weight="bold" text-anchor="end">4Si/M-22</text>
<text x="635.7" y="957" font-size="25.4" font-weight="bold" text-anchor="end">3Si/M-22</text>
<text x="637.6" y="1009.9" font-size="25.4" font-weight="bold" text-anchor="end">2Si/M-22</text>
<text x="636.8" y="1061.2" font-size="25.4" font-weight="bold" text-anchor="end">1Si/M-22</text>
<text x="610.3" y="1131.6" font-size="25.4" font-weight="bold" text-anchor="end">M-22</text>
<path d="M832.5,1139.6 835.4,1137.7 838.3,1136.3 840.9,1136.5 843.5,1137.6 845.9,1139.0 848.3,1139.4 850.7,1141.3 853.1,1140.1 855.4,1139.0 857.8,1136.1 860.1,1135.1 862.5,1135.4 864.9,1137.5 867.3,1138.0 870.5,1138.2 873.6,1141.7 876.7,1140.1 879.8,1137.9 882.4,1138.6 885.0,1138.5 888.1,1136.6 891.2,1136.0 894.1,1138.1 897.0,1141.5 899.6,1140.1 902.1,1138.2 904.7,1137.5 907.0,1137.6 909.4,1138.5 911.7,1137.9 914.0,1138.3 916.6,1138.8 919.2,1140.0 921.6,1137.0 924.1,1134.0 926.5,1132.8 929.6,1135.7 932.7,1138.3 935.2,1137.5 937.7,1136.2 940.2,1135.6 942.7,1135.2 945.2,1134.2 947.8,1135.3 950.4,1134.3 953.0,1134.8 955.6,1133.6 958.1,1134.0 960.6,1133.1 963.0,1130.7 965.5,1130.4 968.0,1131.1 971.1,1127.1 974.3,1125.1 975.2,1121.7 976.1,1118.8 977.0,1117.7 977.8,1115.7 978.7,1112.5 979.6,1109.9 980.5,1108.2 981.7,1106.9 983.0,1104.1 984.2,1100.3 985.5,1098.1 986.7,1095.3 987.4,1092.9 988.1,1092.1 988.8,1088.5 989.5,1087.0 990.2,1084.4 990.9,1081.6 991.6,1080.4 992.3,1076.9 993.0,1075.6 995.1,1072.1 997.1,1070.3 999.2,1067.4 999.6,1065.2 1000.1,1064.3 1000.5,1061.7 1001.0,1058.4 1001.4,1057.2 1001.9,1053.6 1002.3,1051.6 1002.7,1050.3 1003.2,1047.5 1003.6,1044.1 1004.1,1043.6 1004.5,1039.7 1005.0,1037.5 1005.4,1036.2 1005.8,1033.1 1006.1,1030.8 1006.5,1028.1 1006.9,1025.8 1007.3,1024.5 1007.6,1021.6 1008.0,1020.1 1008.4,1017.3 1008.8,1015.2 1009.1,1014.0 1009.5,1010.8 1010.6,1008.2 1011.6,1006.0 1012.7,1001.9 1014.0,1004.4 1015.2,1008.5 1016.5,1010.9 1017.8,1012.4 1018.3,1014.5 1018.8,1017.9 1019.4,1020.5 1019.9,1021.3 1020.4,1025.1 1020.9,1027.2 1021.5,1028.9 1022.0,1030.7 1022.5,1032.4 1023.0,1034.5 1023.6,1038.6 1024.1,1039.4 1024.7,1042.6 1025.3,1044.0 1026.0,1047.4 1026.6,1049.2 1027.2,1050.9 1027.8,1052.9 1028.4,1056.3 1029.1,1057.3 1029.7,1059.9 1030.3,1062.8 1031.3,1065.9 1032.4,1067.9 1033.4,1069.8 1034.5,1073.5 1035.5,1074.6 1037.9,1075.6 1040.4,1077.5 1042.8,1079.3 1046.9,1082.7 1047.4,1085.2 1047.9,1087.8 1048.5,1090.5 1049.0,1091.9 1049.5,1094.6 1050.0,1097.9 1050.5,1100.3 1051.0,1101.9 1051.5,1104.2 1052.1,1106.3 1052.6,1107.6 1053.1,1109.7 1054.4,1112.1 1055.6,1116.4 1056.9,1118.4 1058.1,1121.4 1059.4,1122.0 1061.1,1125.7 1062.9,1127.8 1064.6,1130.8 1067.2,1129.4 1069.8,1130.3 1072.4,1129.0 1074.9,1130.4 1077.5,1131.3 1080.1,1132.1 1082.9,1133.9 1085.6,1135.9 1088.4,1138.2 1091.2,1139.8 1093.9,1140.0 1096.7,1142.1 1099.1,1140.4 1101.6,1138.3 1104.0,1135.3 1106.3,1137.6 1108.7,1139.3 1111.1,1140.3 1113.4,1141.9 1116.0,1140.7 1118.6,1140.3 1121.1,1139.6 1123.7,1137.8 1126.0,1138.4 1128.4,1138.6 1130.8,1137.9 1133.1,1137.1 1135.5,1135.9 1137.8,1136.1 1140.1,1136.0 1142.4,1135.9 1144.7,1137.0 1147.0,1135.7 1149.3,1137.3 1151.6,1136.1 1153.9,1137.4 1156.2,1137.4 1158.5,1137.2 1160.8,1138.2 1163.1,1137.9 1165.4,1138.3 1167.7,1139.0 1170.1,1137.8 1172.4,1137.5 1174.7,1138.2 1177.0,1139.0 1179.3,1138.2 1181.6,1138.0 1183.9,1139.4 1186.2,1138.8 1188.5,1138.2 1190.8,1139.0 1193.1,1137.7 1195.4,1138.3 1197.7,1137.2 1200.0,1137.6 1202.4,1138.0 1204.9,1137.8 1207.3,1137.4 1209.7,1136.1 1212.2,1136.1 1214.6,1135.2 1217.1,1134.7 1219.6,1135.2 1222.0,1135.7 1224.5,1135.5 1227.0,1135.0 1230.0,1135.9 1232.8,1138.6 1234.2,1135.8 1235.5,1133.8 1236.9,1130.8 1238.3,1128.1 1240.5,1125.7 1242.7,1123.4 1245.5,1119.5 1245.9,1116.9 1246.3,1115.7 1246.8,1113.7 1247.2,1110.4 1247.6,1107.4 1248.0,1105.1 1249.0,1103.9 1249.9,1099.4 1250.9,1097.9 1252.2,1100.4 1253.5,1102.6 1253.9,1106.0 1254.2,1106.9 1254.6,1109.6 1255.0,1112.7 1255.4,1114.2 1255.8,1118.3 1256.1,1119.5 1256.5,1121.8 1260.0,1125.6 1263.0,1129.5 1265.8,1130.2 1268.6,1131.8 1271.2,1133.6 1273.9,1135.7 1276.5,1137.8 1278.8,1136.5 1281.2,1134.7 1283.6,1134.5 1285.9,1133.2 1288.1,1133.4 1290.3,1135.0 1292.6,1136.1 1294.8,1135.6 1297.0,1136.4 1300.2,1135.8 1303.3,1135.8 1305.9,1137.3 1308.5,1139.3 1311.1,1141.4 1314.2,1137.9 1317.4,1136.0 1319.7,1137.3 1321.9,1136.8 1324.2,1139.6 1326.4,1140.3 1328.7,1140.2 1330.9,1142.0 1333.2,1143.5 1336.3,1140.9 1339.5,1136.7 1342.0,1137.0 1344.5,1137.7 1347.1,1137.5 1349.6,1137.8 1352.1,1136.8 1355.2,1138.8 1358.4,1139.5 1361.0,1140.3 1363.7,1140.2 1366.3,1139.6 1369.4,1142.1 1372.6,1143.4 1375.8,1142.4 1378.9,1140.3 1381.4,1140.1 1383.9,1139.1 1386.5,1139.4 1389.0,1138.3 1391.5,1139.3 1394.7,1140.0 1397.8,1139.8 1400.4,1137.2 1403.0,1135.8 1405.6,1133.9 1408.8,1136.3 1411.9,1137.8 1416.0,1140.0" fill="none" stroke="#000" stroke-width="4.2" stroke-linejoin="round" stroke-linecap="round" />
<path d="M832.5,1085.4 834.8,1084.4 837.0,1083.1 839.3,1080.7 841.8,1081.2 844.3,1082.8 846.8,1083.4 849.3,1085.3 851.8,1085.9 854.3,1087.0 856.8,1088.1 859.2,1089.6 861.7,1089.8 864.2,1091.7 867.0,1089.0 869.7,1088.4 872.5,1084.6 875.1,1085.9 877.7,1084.1 880.3,1085.1 882.9,1084.2 885.7,1085.7 888.4,1088.0 891.2,1087.7 893.8,1088.1 896.4,1090.0 899.0,1089.5 901.6,1088.9 904.4,1088.9 907.1,1087.1 909.9,1083.7 913.0,1086.4 916.1,1088.0 918.7,1086.6 921.3,1085.5 923.9,1082.9 926.5,1082.2 929.1,1081.1 931.7,1081.4 934.3,1082.9 936.9,1082.2 939.3,1083.6 941.7,1085.4 944.1,1086.6 946.5,1084.6 949.0,1082.2 951.4,1081.9 953.8,1082.3 956.3,1082.2 958.7,1081.5 961.1,1080.8 963.6,1080.8 966.0,1081.4 968.6,1079.9 971.1,1077.3 973.7,1076.1 976.3,1074.9 977.2,1072.9 978.1,1071.2 979.1,1068.3 980.0,1065.0 980.9,1064.3 981.8,1061.2 982.8,1059.1 983.7,1056.2 984.6,1054.3 985.8,1051.9 986.9,1050.3 988.1,1046.7 989.2,1045.3 990.4,1042.2 991.5,1040.9 992.7,1037.3 993.8,1035.5 995.0,1033.3 995.9,1031.6 996.8,1028.1 997.8,1026.6 998.7,1023.8 999.6,1021.7 1000.5,1019.8 1001.5,1018.4 1002.4,1015.2 1003.3,1013.8 1003.6,1009.9 1004.0,1009.2 1004.3,1005.7 1004.6,1003.1 1004.9,1001.9 1005.3,1000.0 1005.6,995.9 1005.9,994.1 1006.2,992.8 1006.6,989.6 1006.9,987.1 1007.2,984.4 1007.5,982.1 1007.9,981.0 1008.2,979.4 1008.5,977.2 1008.8,973.9 1009.2,970.6 1009.5,968.9 1010.8,967.6 1012.0,965.4 1013.3,962.7 1014.5,959.6 1015.8,958.0 1017.0,960.1 1018.3,962.7 1019.5,964.3 1020.8,967.9 1022.0,970.1 1022.6,970.8 1023.2,973.3 1023.9,976.7 1024.5,977.7 1025.1,981.3 1025.7,982.6 1026.3,985.2 1027.0,987.4 1027.6,988.6 1028.2,991.0 1028.8,993.2 1029.4,996.2 1030.1,998.5 1030.7,999.6 1031.3,1003.3 1034.1,999.6 1036.8,996.4 1039.6,994.1 1040.3,997.4 1041.1,998.9 1041.8,1001.3 1042.5,1004.2 1043.2,1006.5 1044.0,1008.4 1044.7,1010.0 1045.4,1012.6 1046.2,1015.5 1046.9,1017.6 1047.6,1019.4 1048.2,1021.1 1048.9,1023.4 1049.5,1026.3 1050.2,1028.2 1050.8,1029.3 1051.5,1032.9 1052.1,1035.5 1052.8,1037.5 1053.4,1039.9 1054.0,1042.1 1054.7,1043.5 1055.3,1046.3 1056.0,1047.6 1056.6,1049.3 1057.3,1052.0 1060.1,1054.0 1062.8,1057.3 1065.6,1058.9 1068.2,1060.2 1070.8,1061.9 1073.4,1062.5 1076.0,1064.9 1077.7,1067.7 1079.3,1069.5 1081.0,1071.7 1082.6,1074.5 1084.3,1076.8 1087.1,1076.5 1089.8,1074.4 1092.6,1073.3 1095.4,1076.5 1098.1,1080.0 1100.9,1082.9 1103.5,1083.5 1106.1,1084.8 1108.7,1084.5 1111.3,1084.6 1114.2,1083.0 1117.0,1080.5 1119.6,1081.5 1122.2,1084.1 1124.8,1085.0 1127.4,1086.4 1130.5,1083.4 1133.6,1081.5 1136.0,1080.5 1138.4,1082.1 1140.8,1082.8 1143.3,1083.5 1145.7,1084.8 1148.1,1085.2 1150.7,1085.9 1153.3,1084.3 1155.9,1083.9 1158.5,1082.0 1160.8,1083.8 1163.0,1085.3 1165.2,1087.0 1167.5,1087.1 1169.8,1088.7 1172.0,1090.7 1174.3,1089.4 1176.6,1086.9 1178.8,1086.3 1181.1,1085.5 1183.4,1083.5 1185.8,1084.2 1188.1,1084.3 1190.5,1085.1 1192.9,1084.4 1195.3,1084.8 1197.6,1084.3 1200.0,1085.3 1202.5,1084.6 1205.0,1085.2 1207.5,1085.1 1210.0,1085.2 1212.5,1085.1 1215.6,1082.9 1218.7,1081.1 1221.1,1083.1 1223.6,1085.4 1226.0,1089.5 1228.2,1086.9 1230.5,1086.7 1232.8,1084.4 1235.0,1082.5 1237.2,1081.9 1239.5,1080.4 1243.6,1076.1 1244.0,1073.5 1244.4,1072.2 1244.9,1070.3 1245.3,1067.6 1245.7,1065.6 1246.1,1062.6 1246.5,1060.7 1247.0,1057.7 1247.4,1055.7 1247.8,1053.4 1249.3,1050.8 1250.9,1048.2 1251.6,1051.3 1252.3,1052.2 1253.0,1054.6 1253.7,1056.9 1254.4,1060.6 1255.1,1061.9 1255.8,1063.4 1256.5,1067.4 1257.2,1069.9 1257.8,1072.3 1258.5,1073.8 1259.2,1077.0 1261.5,1076.1 1263.8,1075.8 1266.0,1077.2 1268.3,1077.2 1270.6,1075.9 1273.8,1075.7 1276.9,1072.4 1279.2,1075.6 1281.6,1077.6 1283.9,1080.5 1286.2,1083.0 1288.5,1083.5 1290.8,1082.1 1293.0,1081.2 1295.3,1080.6 1297.6,1080.2 1300.0,1082.2 1302.3,1082.6 1304.7,1082.5 1307.1,1084.6 1309.5,1085.2 1311.8,1085.9 1314.2,1087.0 1316.7,1085.9 1319.2,1085.0 1321.7,1083.1 1324.2,1082.1 1326.7,1080.5 1329.1,1081.6 1331.5,1081.8 1334.0,1082.5 1336.4,1083.4 1338.8,1084.5 1341.2,1084.4 1343.7,1085.8 1346.2,1085.2 1348.7,1086.1 1351.2,1086.0 1353.7,1086.7 1356.3,1087.5 1358.9,1088.3 1361.5,1089.5 1364.1,1091.2 1366.7,1091.8 1369.2,1092.2 1371.8,1091.0 1374.4,1091.1 1376.9,1090.0 1379.4,1088.7 1381.9,1087.4 1384.4,1086.1 1386.9,1085.3 1389.1,1085.4 1391.4,1086.8 1393.6,1087.0 1395.8,1088.0 1398.0,1088.4 1400.3,1088.3 1402.5,1089.0 1404.8,1087.3 1407.0,1087.8 1409.2,1089.4 1411.5,1088.6 1413.8,1088.2 1416.0,1089.4" fill="none" stroke="#FF00FF" stroke-width="4.2" stroke-linejoin="round" stroke-linecap="round" />
<path d="M832.5,1017.6 834.8,1018.0 837.0,1017.5 839.3,1017.3 841.8,1016.9 844.3,1017.9 846.8,1018.7 849.3,1019.7 851.8,1021.7 854.3,1021.4 856.8,1023.1 859.2,1023.3 861.7,1024.4 864.2,1025.6 867.0,1024.2 869.7,1021.5 872.5,1018.1 875.0,1018.7 877.5,1018.6 880.0,1020.1 882.5,1020.0 885.0,1020.1 887.8,1019.9 890.5,1019.5 893.3,1019.6 896.1,1020.7 898.8,1020.9 901.6,1023.5 904.4,1021.2 907.1,1020.2 909.9,1018.2 913.0,1019.5 916.1,1020.9 918.9,1019.5 921.6,1017.8 924.4,1015.8 926.9,1017.3 929.4,1017.4 931.9,1017.8 934.4,1017.3 936.9,1017.1 939.3,1018.3 941.7,1017.9 944.1,1019.9 946.5,1018.2 949.0,1016.5 951.4,1015.4 953.8,1015.8 956.3,1015.0 958.7,1015.2 961.1,1015.2 963.6,1014.5 966.0,1013.8 968.8,1013.2 971.5,1011.5 974.3,1010.3 975.4,1007.9 976.6,1005.9 977.7,1003.0 978.9,1001.9 980.0,1000.2 981.2,996.7 982.3,995.1 983.5,993.2 984.6,989.1 985.5,987.0 986.5,986.1 987.4,983.9 988.4,981.2 989.3,978.0 990.3,976.2 991.2,974.9 992.2,972.7 993.1,970.2 994.1,966.8 995.0,965.8 996.2,962.4 997.5,960.6 998.7,956.9 1000.0,956.1 1001.2,952.9 1001.6,950.9 1002.0,947.7 1002.4,946.3 1002.8,944.0 1003.2,941.9 1003.6,939.2 1004.0,937.7 1004.4,934.7 1004.7,932.4 1005.1,930.0 1005.5,928.8 1005.9,925.4 1006.3,923.5 1006.7,921.0 1007.1,919.9 1007.5,917.5 1008.0,915.2 1008.4,911.9 1008.9,910.3 1009.3,907.8 1009.8,905.0 1010.2,902.5 1010.7,902.2 1011.1,898.2 1011.6,896.2 1015.8,892.0 1017.8,895.8 1019.9,897.9 1020.7,901.0 1021.5,903.1 1022.3,906.4 1023.0,907.1 1023.8,910.1 1024.6,912.7 1025.4,916.0 1026.2,917.4 1026.9,919.8 1027.7,922.6 1028.4,924.3 1029.1,926.2 1029.8,929.5 1030.6,932.8 1031.3,934.9 1033.7,932.0 1036.2,931.0 1038.6,929.5 1039.8,930.6 1041.1,933.5 1042.3,935.4 1043.6,937.4 1044.8,939.8 1045.4,941.9 1046.1,944.5 1046.7,946.1 1047.3,949.1 1047.9,950.8 1048.6,954.4 1049.2,956.4 1049.8,957.4 1050.5,961.3 1051.1,962.4 1051.7,965.3 1052.3,967.7 1053.0,969.5 1053.6,971.7 1054.2,974.3 1054.8,976.0 1055.4,979.8 1056.1,980.5 1056.7,984.3 1057.3,985.3 1060.1,987.9 1062.8,990.5 1065.6,992.2 1068.2,994.2 1070.8,996.5 1073.4,998.5 1076.0,1001.2 1078.1,1004.0 1080.2,1004.7 1082.2,1008.3 1084.3,1010.1 1087.1,1010.4 1089.8,1008.4 1092.6,1008.5 1095.4,1010.2 1098.1,1011.8 1100.9,1014.0 1103.2,1015.8 1105.6,1018.3 1107.9,1018.1 1110.2,1020.1 1112.5,1018.2 1114.7,1016.5 1117.0,1015.8 1119.3,1015.8 1121.7,1018.0 1124.0,1019.1 1126.3,1020.9 1128.7,1018.7 1131.0,1018.1 1133.3,1015.8 1135.7,1014.7 1138.2,1015.9 1140.7,1017.4 1143.1,1018.6 1145.6,1018.2 1148.1,1019.3 1150.7,1019.5 1153.3,1019.6 1155.9,1018.5 1158.5,1017.5 1160.8,1019.8 1163.0,1019.4 1165.2,1019.9 1167.5,1020.7 1169.8,1021.6 1172.0,1024.0 1174.3,1021.4 1176.7,1021.3 1179.1,1020.3 1181.4,1019.3 1183.8,1019.1 1186.2,1018.5 1188.7,1019.1 1191.1,1019.7 1193.5,1019.6 1195.9,1019.0 1198.3,1020.1 1200.7,1019.0 1203.2,1019.5 1205.6,1021.1 1208.0,1020.2 1210.4,1019.9 1213.2,1019.4 1215.9,1017.2 1218.7,1014.8 1221.5,1017.0 1224.2,1019.5 1227.0,1021.8 1229.6,1021.1 1232.2,1017.8 1234.8,1017.2 1237.4,1015.3 1241.6,1012.9 1242.1,1011.7 1242.6,1008.9 1243.2,1005.9 1243.7,1003.1 1244.2,1001.1 1244.7,999.6 1245.2,996.5 1245.8,993.4 1246.3,991.4 1246.8,989.3 1248.8,986.1 1250.9,984.2 1252.0,985.5 1253.0,989.4 1254.0,990.4 1255.1,992.6 1255.8,995.9 1256.6,997.8 1257.3,1001.3 1258.1,1002.9 1258.8,1005.3 1259.6,1008.3 1260.3,1009.4 1262.9,1010.4 1265.4,1010.1 1268.0,1009.6 1270.6,1010.5 1273.8,1007.8 1276.9,1008.7 1279.2,1009.6 1281.6,1013.3 1283.9,1014.3 1286.2,1016.4 1288.5,1016.8 1290.8,1017.1 1293.0,1015.2 1295.3,1015.1 1297.6,1014.8 1300.0,1014.9 1302.3,1016.2 1304.7,1015.9 1307.1,1017.6 1309.5,1019.0 1311.8,1018.9 1314.2,1019.4 1316.6,1018.1 1319.1,1018.5 1321.5,1017.0 1323.9,1017.0 1326.4,1015.6 1328.8,1013.4 1331.2,1016.1 1333.5,1017.1 1335.9,1018.0 1338.3,1019.0 1340.7,1019.8 1343.0,1020.9 1345.4,1021.8 1348.2,1020.8 1350.9,1019.2 1353.7,1018.1 1356.3,1020.7 1358.9,1021.9 1361.5,1022.3 1364.1,1024.9 1366.7,1025.2 1369.2,1025.4 1371.8,1026.4 1374.4,1027.0 1376.9,1024.7 1379.4,1024.3 1381.9,1022.5 1384.4,1021.4 1386.9,1019.8 1389.5,1021.1 1392.1,1020.3 1394.8,1021.5 1397.4,1020.5 1400.0,1021.3 1402.3,1022.0 1404.6,1021.7 1406.9,1021.2 1409.1,1020.8 1411.4,1021.7 1413.7,1021.8 1416.0,1022.7" fill="none" stroke="#0000FF" stroke-width="4.2" stroke-linejoin="round" stroke-linecap="round" />
<path d="M832.5,935.3 834.8,936.1 837.0,935.7 839.3,935.9 841.7,935.9 844.2,937.3 846.6,939.7 849.2,939.0 851.8,937.7 854.6,937.0 857.3,934.9 860.1,934.2 862.9,933.5 865.6,934.4 868.4,936.4 870.9,935.8 873.4,936.1 875.8,937.7 878.3,937.9 880.8,937.4 884.0,936.7 887.1,935.3 889.5,935.9 891.9,938.5 894.3,939.0 896.6,937.3 898.9,934.6 901.1,932.6 903.4,932.0 905.7,928.6 908.2,931.0 910.7,931.2 913.2,932.7 915.7,934.5 918.2,935.4 920.8,934.7 923.4,936.2 926.0,936.8 928.6,936.5 930.4,934.0 932.2,933.2 934.0,930.2 935.8,927.2 938.2,930.1 940.7,932.0 943.1,935.6 945.9,936.4 948.6,937.0 951.4,939.8 954.0,936.0 956.6,934.1 959.2,931.2 961.8,930.3 964.3,927.8 966.8,927.4 969.3,925.3 971.8,924.8 974.3,924.0 976.9,921.3 979.5,918.9 982.0,916.6 984.6,914.2 986.7,911.3 988.8,907.2 989.8,905.7 990.9,903.0 991.9,902.0 992.9,899.9 994.0,895.9 995.0,893.8 996.5,892.5 998.0,889.9 999.5,886.4 1001.0,885.4 1003.2,882.8 1005.4,878.7 1006.0,876.3 1006.6,874.5 1007.3,872.9 1007.9,869.3 1008.5,867.1 1009.1,864.6 1009.7,863.2 1010.4,860.6 1011.0,857.9 1011.6,855.9 1013.7,852.6 1015.8,850.5 1018.9,853.4 1022.0,854.2 1024.4,855.6 1026.9,859.0 1029.3,859.9 1032.4,856.6 1035.5,853.1 1038.1,855.4 1040.7,857.6 1041.7,860.0 1042.8,863.6 1043.8,864.7 1044.8,867.0 1045.9,870.1 1046.9,873.1 1048.0,874.1 1049.0,877.4 1049.8,878.9 1050.7,881.6 1051.5,883.9 1052.3,886.9 1053.2,888.8 1054.0,890.6 1054.8,893.5 1055.6,894.9 1056.5,897.2 1057.3,900.6 1059.9,902.5 1062.5,905.7 1065.1,907.5 1067.7,911.4 1068.9,913.3 1070.1,915.1 1071.3,919.0 1072.6,920.6 1073.8,922.9 1075.0,925.2 1077.5,922.8 1080.1,920.9 1082.6,923.5 1085.1,924.1 1087.6,926.0 1090.1,928.0 1092.6,929.9 1095.4,929.2 1098.1,929.7 1100.9,928.3 1103.5,930.4 1106.1,932.3 1108.7,933.5 1111.3,935.5 1114.2,934.5 1117.0,934.8 1119.6,931.5 1122.2,930.4 1124.1,931.8 1125.9,935.0 1127.8,937.3 1129.6,938.9 1131.5,942.4 1134.7,939.2 1137.8,936.4 1140.3,934.6 1142.8,934.5 1145.2,933.4 1147.7,933.0 1150.2,933.1 1152.8,934.5 1155.4,934.4 1158.0,937.2 1160.6,939.3 1163.7,939.2 1166.8,939.1 1169.4,939.2 1172.0,937.0 1174.6,936.7 1177.2,935.0 1180.0,937.0 1182.7,939.3 1185.5,939.6 1188.1,940.3 1190.7,938.6 1193.3,937.4 1195.9,937.2 1198.7,938.8 1201.4,938.9 1204.2,941.0 1206.8,940.8 1209.4,939.4 1212.0,938.7 1214.6,937.4 1217.0,939.9 1219.4,939.6 1221.8,941.6 1224.3,942.6 1226.7,942.5 1229.1,945.6 1231.9,942.5 1234.6,942.4 1237.4,940.8 1240.0,942.6 1242.6,944.3 1244.4,940.8 1246.2,938.3 1248.1,935.5 1249.9,934.1 1252.0,929.8 1254.1,927.5 1256.1,926.7 1258.2,923.9 1260.3,921.2 1262.4,924.1 1264.4,925.6 1266.5,928.7 1269.3,926.2 1272.0,925.3 1274.8,921.9 1277.6,924.8 1280.3,927.2 1283.1,929.7 1285.4,928.8 1287.7,929.2 1290.0,929.7 1292.3,928.4 1294.7,927.9 1297.0,927.4 1299.3,929.0 1301.6,928.1 1303.9,927.8 1307.0,927.0 1310.1,925.2 1312.5,926.6 1314.9,927.9 1317.3,929.1 1319.8,931.5 1322.2,931.5 1324.6,932.4 1326.9,932.3 1329.3,930.0 1331.7,927.3 1334.0,927.0 1336.3,928.9 1338.7,930.7 1341.0,932.9 1343.3,934.1 1345.9,932.9 1348.5,933.2 1351.1,932.2 1353.7,931.5 1356.5,932.2 1359.2,934.3 1362.0,936.7 1364.8,934.9 1367.5,934.2 1370.3,932.7 1372.9,934.2 1375.5,934.2 1378.1,935.4 1380.7,937.0 1383.3,934.6 1385.8,933.1 1388.4,932.7 1391.0,930.4 1393.6,933.6 1396.2,934.3 1398.8,937.4 1401.4,938.5 1404.2,935.3 1406.9,933.6 1409.7,931.5 1412.8,931.6 1416.0,932.5" fill="none" stroke="#008000" stroke-width="4.2" stroke-linejoin="round" stroke-linecap="round" />
<path d="M832.5,884.0 834.7,882.4 837.0,884.1 839.2,883.2 841.4,885.1 844.0,884.4 846.6,887.5 849.2,888.4 851.8,890.0 853.3,888.0 854.9,884.1 856.5,882.0 858.0,880.4 860.8,881.3 863.5,883.0 866.3,884.7 868.9,884.9 871.5,883.8 874.1,882.6 876.7,880.4 879.5,883.6 882.2,884.5 885.0,885.7 887.8,884.7 890.5,883.2 893.3,881.2 895.9,881.9 898.5,881.2 901.1,881.4 903.7,881.9 906.1,880.9 908.5,880.1 911.0,880.7 913.4,880.6 915.8,879.2 918.2,879.8 920.6,878.1 922.9,878.5 925.3,878.7 927.7,880.4 930.1,880.1 932.4,880.3 934.8,879.6 937.2,879.6 939.6,880.1 942.0,878.1 944.5,877.8 946.9,877.3 949.3,877.8 951.8,876.7 954.3,874.2 956.8,872.1 959.3,870.4 961.8,867.9 964.4,870.4 967.0,870.3 969.6,871.1 972.2,872.3 973.9,870.8 975.5,867.3 977.2,866.0 978.8,862.4 980.5,860.1 982.2,857.1 983.8,856.5 985.5,854.0 987.1,851.0 988.8,848.0 991.4,847.0 994.0,845.0 996.6,844.1 999.2,842.5 1000.6,839.6 1002.0,836.3 1003.4,833.4 1004.7,832.7 1006.1,830.3 1007.5,826.3 1009.6,824.6 1011.6,822.2 1013.7,820.8 1014.9,821.4 1016.2,823.9 1017.4,827.9 1018.7,829.9 1019.9,832.1 1022.5,832.5 1025.1,831.9 1027.7,831.8 1030.3,830.7 1033.1,832.1 1035.8,833.7 1038.6,836.1 1041.7,839.3 1044.8,841.4 1046.0,843.7 1047.2,846.6 1048.4,849.1 1049.5,851.3 1050.7,853.1 1051.9,856.5 1053.1,858.8 1055.7,861.3 1058.3,863.6 1060.9,864.2 1063.5,867.8 1066.3,870.0 1069.0,872.8 1071.8,875.8 1074.6,875.8 1077.3,876.7 1080.1,878.9 1082.5,877.6 1084.8,878.7 1087.2,878.3 1089.6,877.5 1092.0,877.5 1094.3,878.1 1096.7,878.3 1099.2,878.4 1101.7,878.7 1104.2,879.7 1106.7,881.9 1109.2,882.5 1111.8,881.9 1114.4,884.1 1117.0,884.3 1119.8,885.8 1122.5,889.0 1125.3,889.6 1128.1,887.4 1130.8,885.9 1133.6,884.6 1136.4,885.6 1139.1,886.9 1141.9,889.1 1144.7,886.7 1147.4,886.1 1150.2,883.1 1152.8,884.9 1155.4,884.0 1158.0,885.2 1160.6,885.9 1163.4,886.5 1166.1,887.4 1168.9,888.4 1171.7,887.8 1174.4,886.0 1177.2,884.7 1179.8,886.1 1182.4,886.8 1185.0,886.8 1187.6,888.4 1190.1,887.2 1192.6,885.5 1195.0,885.6 1197.5,884.7 1200.0,882.8 1202.8,885.9 1205.5,888.2 1208.3,889.6 1210.9,888.1 1213.5,886.8 1216.1,885.5 1218.7,884.7 1221.0,888.5 1223.4,889.0 1225.8,893.0 1228.1,894.9 1230.4,893.2 1232.8,890.0 1235.1,889.3 1237.4,886.6 1241.6,883.5 1244.7,883.1 1247.8,882.4 1248.8,879.8 1249.9,878.3 1250.9,874.7 1251.9,872.3 1253.0,871.5 1254.0,867.6 1256.8,870.4 1259.5,872.5 1262.3,875.6 1264.4,876.9 1266.5,879.7 1268.6,882.0 1271.4,880.6 1274.1,879.2 1276.9,877.8 1279.5,879.6 1282.1,880.9 1284.6,882.4 1287.2,884.9 1290.0,883.7 1292.7,880.9 1295.5,880.9 1298.1,878.9 1300.7,879.3 1303.3,880.3 1305.9,878.6 1308.5,880.8 1311.1,882.7 1313.7,883.1 1316.3,884.0 1318.9,882.4 1321.5,882.5 1324.1,881.7 1326.7,881.6 1329.5,882.5 1332.2,885.1 1335.0,886.0 1337.4,883.7 1339.9,881.2 1342.3,877.2 1344.6,880.4 1346.9,880.9 1349.3,882.5 1351.6,885.0 1354.7,884.8 1357.8,885.2 1360.4,883.8 1363.0,883.0 1365.6,883.3 1368.2,882.0 1370.8,881.8 1373.4,881.4 1376.0,880.9 1378.6,879.6 1381.4,882.1 1384.1,882.6 1386.9,883.5 1389.7,885.5 1392.4,886.3 1395.2,885.4 1397.7,885.9 1400.2,884.5 1402.7,882.6 1405.2,882.2 1407.7,881.8 1410.5,879.6 1413.2,879.9 1416.0,878.4" fill="none" stroke="#EF8028" stroke-width="4.2" stroke-linejoin="round" stroke-linecap="round" />
<path d="M832.5,833.0 834.9,831.7 837.2,829.9 840.4,831.6 843.5,833.1 845.9,833.2 848.3,832.1 850.7,832.5 853.9,834.3 857.0,838.0 859.8,835.3 862.5,832.2 865.3,830.6 867.6,830.2 870.0,831.7 872.3,832.6 874.6,831.7 877.7,833.5 880.8,833.9 883.6,834.7 886.3,834.4 889.1,836.3 891.7,836.1 894.3,834.9 896.9,834.3 899.5,833.9 902.3,835.4 905.0,838.1 907.8,838.8 910.4,837.5 913.0,836.5 915.6,835.6 918.2,832.9 920.8,832.1 923.4,833.7 926.0,833.1 928.6,832.8 931.7,834.8 934.8,836.9 937.1,836.5 939.5,836.5 941.8,836.6 944.1,835.5 946.5,834.7 948.8,832.7 951.1,829.2 953.5,828.8 956.6,830.1 959.7,833.0 962.5,830.8 965.2,830.1 968.0,828.0 970.8,827.3 973.5,826.0 976.3,823.9 979.5,823.2 982.6,822.4 984.1,820.1 985.7,817.4 987.2,815.2 988.8,812.8 991.9,809.7 995.0,806.9 996.2,805.1 997.4,803.7 998.6,801.2 999.7,798.7 1000.9,796.8 1002.1,793.4 1003.3,790.9 1004.2,788.6 1005.1,786.3 1006.1,783.8 1007.0,782.8 1007.9,781.0 1008.8,777.1 1009.8,776.0 1010.7,774.2 1011.6,771.5 1014.7,768.2 1017.8,767.1 1020.9,766.1 1024.1,765.8 1027.2,768.2 1030.3,772.1 1033.4,773.3 1036.5,772.2 1040.7,774.4 1041.7,777.2 1042.8,778.9 1043.8,782.0 1044.8,784.9 1045.9,786.7 1046.9,788.2 1048.0,790.5 1049.0,793.2 1051.1,796.4 1053.2,799.2 1055.2,800.6 1057.3,802.1 1059.4,804.6 1061.5,807.5 1063.5,809.3 1065.6,811.7 1067.7,814.8 1069.7,818.0 1071.8,819.3 1074.6,822.6 1077.3,824.7 1080.1,825.9 1082.6,826.1 1085.1,826.6 1087.6,828.2 1090.1,829.1 1092.6,829.8 1095.4,829.9 1098.1,831.8 1100.9,832.3 1103.4,832.7 1105.9,832.4 1108.4,831.9 1110.9,831.6 1113.4,833.2 1117.0,830.8 1119.8,831.9 1122.5,832.7 1125.3,833.2 1128.4,832.9 1131.5,832.2 1134.7,833.7 1137.8,834.5 1140.6,834.2 1143.3,832.9 1146.1,831.6 1148.6,833.1 1151.1,835.7 1153.5,838.7 1156.0,840.8 1158.5,841.7 1160.6,839.9 1162.7,837.3 1164.7,836.0 1166.8,833.1 1169.3,833.7 1171.8,834.0 1174.3,835.1 1176.8,836.2 1179.3,836.7 1182.1,835.1 1184.8,834.8 1187.6,834.5 1189.9,835.5 1192.2,839.3 1194.6,839.6 1196.9,842.9 1199.3,839.8 1201.8,839.4 1204.2,836.8 1206.7,836.0 1209.2,836.8 1211.7,837.7 1214.2,837.9 1216.7,837.7 1219.3,838.3 1221.8,839.1 1224.4,840.1 1227.0,839.9 1229.6,839.3 1232.2,838.7 1234.8,837.3 1237.4,835.8 1240.2,837.0 1242.9,837.0 1245.7,838.2 1247.8,835.4 1249.9,832.8 1252.0,828.3 1254.8,827.8 1257.5,829.3 1260.3,828.6 1264.4,833.2 1266.8,830.4 1269.3,828.3 1271.7,824.3 1274.3,826.6 1276.9,829.7 1279.4,829.5 1281.9,827.7 1284.3,828.9 1286.8,827.0 1289.3,826.4 1291.6,826.6 1294.0,825.9 1296.3,825.4 1298.7,825.2 1301.0,824.8 1303.3,824.8 1305.7,825.6 1308.0,825.6 1310.6,827.1 1313.2,827.9 1315.8,830.2 1318.4,830.4 1321.0,831.9 1323.6,831.0 1326.2,830.4 1328.8,831.0 1331.9,829.5 1335.0,829.6 1337.4,830.2 1339.9,830.9 1342.3,832.7 1344.9,833.5 1347.4,836.3 1350.0,836.2 1352.6,838.0 1354.9,836.3 1357.3,834.6 1359.7,834.0 1362.0,832.3 1365.1,833.9 1368.2,838.4 1370.8,836.1 1373.4,835.7 1376.0,834.2 1378.6,834.2 1381.4,833.7 1384.1,834.5 1386.9,835.5 1389.7,835.5 1392.4,835.7 1395.2,834.2 1397.7,835.6 1400.2,834.4 1402.7,836.5 1405.2,835.3 1407.7,837.2 1410.5,835.4 1413.2,835.8 1416.0,835.5" fill="none" stroke="#AD5000" stroke-width="4.2" stroke-linejoin="round" stroke-linecap="round" />
<line x1="994.3" y1="780.3" x2="994.3" y2="1142.0" stroke="#000" stroke-width="3.9" stroke-dasharray="9.8 6.95"/>
<line x1="1013.1" y1="728.4" x2="1013.1" y2="1139.0" stroke="#000" stroke-width="3.9" stroke-dasharray="9.8 6.95"/>
<line x1="1040.0" y1="758.6" x2="1040.0" y2="1137.0" stroke="#000" stroke-width="3.9" stroke-dasharray="9.8 6.95"/>
<line x1="1250.4" y1="756.6" x2="1250.4" y2="1150.0" stroke="#000" stroke-width="3.9" stroke-dasharray="9.8 6.95"/>
<text x="994" y="722.9" font-size="28.4" font-weight="bold">56 ppm</text>
<text x="906.8" y="764.9" font-size="28.4" font-weight="bold">61 ppm</text>
<text x="1035.5" y="755.2" font-size="28.4" font-weight="bold">50 ppm</text>
<text x="1243" y="748.3" font-size="28.6" font-weight="bold">0 ppm</text>
<text x="1392.6" y="811.8" font-size="25.4" font-weight="bold" text-anchor="end">5Si/M-22</text>
<text x="1392.6" y="873.7" font-size="25.4" font-weight="bold" text-anchor="end">4Si/M-22</text>
<text x="1392.6" y="922.5" font-size="25.4" font-weight="bold" text-anchor="end">3Si/M-22</text>
<text x="1392.6" y="1002.4" font-size="25.4" font-weight="bold" text-anchor="end">2Si/M-22</text>
<text x="1392.6" y="1073.4" font-size="25.4" font-weight="bold" text-anchor="end">1Si/M-22</text>
<text x="1392.6" y="1126.9" font-size="25.4" font-weight="bold" text-anchor="end">M-22</text>
</svg>
</body></html>
